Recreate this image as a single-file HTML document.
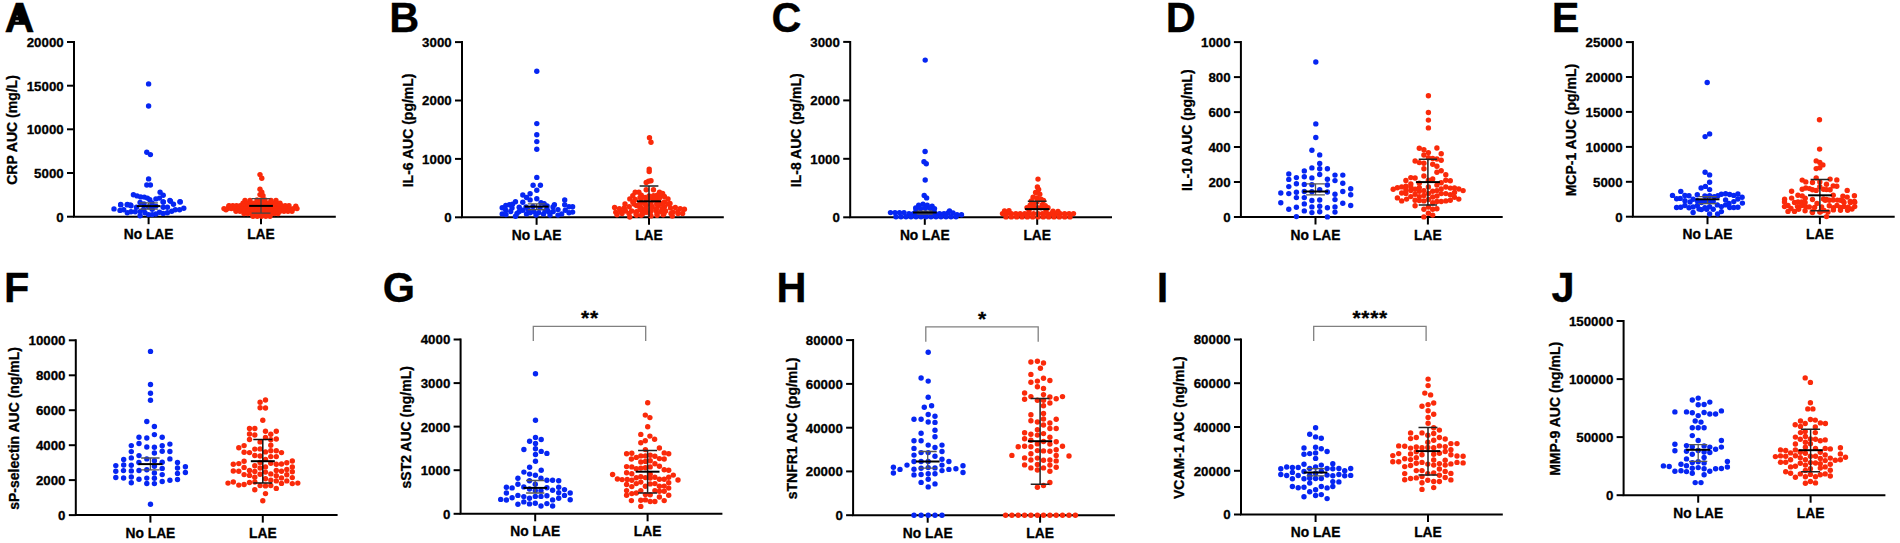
<!DOCTYPE html><html><head><meta charset="utf-8"><title>Figure</title><style>html,body{margin:0;padding:0;background:#fff;}svg{display:block;}text{font-family:"Liberation Sans", Arial, Helvetica, sans-serif;font-weight:bold;fill:#000;stroke:#000;stroke-width:0.3px;}</style></head><body>
<svg width="1900" height="543" viewBox="0 0 1900 543">
<rect width="1900" height="543" fill="#fff"/>
<g><text transform="translate(4.6 32.4) scale(0.965 1)" font-size="43">A</text><path d="M18.0 6.6 L21.8 6.6 L27.2 21.3 L12.6 21.3 Z" fill="#000"/><rect x="15.4" y="20.4" width="3.4" height="1.2" fill="#fff"/><rect x="16.5" y="15.6" width="1.2" height="1.2" fill="#fff" opacity="0.8"/><path d="M74.0 41.0 V216.7 M73.0 216.7 H335.8" stroke="#000" stroke-width="2" fill="none"/><path d="M67.0 216.7 H74.0" stroke="#000" stroke-width="2"/><text x="63.7" y="221.6" font-size="13.3" text-anchor="end">0</text><path d="M67.0 173.0 H74.0" stroke="#000" stroke-width="2"/><text x="63.7" y="177.9" font-size="13.3" text-anchor="end">5000</text><path d="M67.0 129.3 H74.0" stroke="#000" stroke-width="2"/><text x="63.7" y="134.2" font-size="13.3" text-anchor="end">10000</text><path d="M67.0 85.7 H74.0" stroke="#000" stroke-width="2"/><text x="63.7" y="90.6" font-size="13.3" text-anchor="end">15000</text><path d="M67.0 42.0 H74.0" stroke="#000" stroke-width="2"/><text x="63.7" y="46.9" font-size="13.3" text-anchor="end">20000</text><path d="M148.6 216.7 V224.2" stroke="#000" stroke-width="2"/><text x="148.6" y="239.2" font-size="13.8" text-anchor="middle">No LAE</text><path d="M261.0 216.7 V224.2" stroke="#000" stroke-width="2"/><text x="261.0" y="239.2" font-size="13.8" text-anchor="middle">LAE</text><text transform="translate(17.4 130.0) rotate(-90)" font-size="14" text-anchor="middle">CRP AUC (mg/L)</text><circle cx="148.6" cy="83.9" r="2.7" fill="#0626f2"/><circle cx="148.6" cy="106.0" r="2.7" fill="#0626f2"/><circle cx="146.8" cy="152.2" r="2.7" fill="#0626f2"/><circle cx="150.4" cy="154.6" r="2.7" fill="#0626f2"/><circle cx="148.6" cy="178.9" r="2.7" fill="#0626f2"/><circle cx="146.8" cy="185.0" r="2.7" fill="#0626f2"/><circle cx="150.4" cy="185.0" r="2.7" fill="#0626f2"/><circle cx="133.4" cy="194.7" r="2.7" fill="#0626f2"/><circle cx="137.1" cy="195.9" r="2.7" fill="#0626f2"/><circle cx="140.7" cy="196.9" r="2.7" fill="#0626f2"/><circle cx="144.3" cy="197.1" r="2.7" fill="#0626f2"/><circle cx="147.4" cy="198.1" r="2.7" fill="#0626f2"/><circle cx="149.8" cy="199.8" r="2.7" fill="#0626f2"/><circle cx="160.1" cy="192.2" r="2.7" fill="#0626f2"/><circle cx="163.2" cy="195.3" r="2.7" fill="#0626f2"/><circle cx="159.5" cy="198.1" r="2.7" fill="#0626f2"/><circle cx="155.9" cy="198.9" r="2.7" fill="#0626f2"/><circle cx="169.9" cy="200.5" r="2.7" fill="#0626f2"/><circle cx="180.0" cy="201.7" r="2.7" fill="#0626f2"/><circle cx="163.2" cy="202.0" r="2.7" fill="#0626f2"/><circle cx="120.7" cy="204.4" r="2.7" fill="#0626f2"/><circle cx="127.3" cy="204.4" r="2.7" fill="#0626f2"/><circle cx="130.4" cy="205.0" r="2.7" fill="#0626f2"/><circle cx="114.0" cy="208.9" r="2.7" fill="#0626f2"/><circle cx="120.7" cy="204.9" r="2.7" fill="#0626f2"/><circle cx="120.0" cy="210.4" r="2.7" fill="#0626f2"/><circle cx="123.7" cy="209.8" r="2.7" fill="#0626f2"/><circle cx="127.3" cy="204.9" r="2.7" fill="#0626f2"/><circle cx="131.0" cy="205.8" r="2.7" fill="#0626f2"/><circle cx="127.3" cy="212.8" r="2.7" fill="#0626f2"/><circle cx="131.0" cy="211.8" r="2.7" fill="#0626f2"/><circle cx="135.2" cy="211.8" r="2.7" fill="#0626f2"/><circle cx="140.1" cy="202.5" r="2.7" fill="#0626f2"/><circle cx="140.1" cy="215.8" r="2.7" fill="#0626f2"/><circle cx="143.7" cy="209.2" r="2.7" fill="#0626f2"/><circle cx="148.6" cy="206.7" r="2.7" fill="#0626f2"/><circle cx="152.2" cy="209.2" r="2.7" fill="#0626f2"/><circle cx="155.9" cy="206.1" r="2.7" fill="#0626f2"/><circle cx="163.2" cy="201.9" r="2.7" fill="#0626f2"/><circle cx="163.2" cy="207.3" r="2.7" fill="#0626f2"/><circle cx="167.4" cy="207.3" r="2.7" fill="#0626f2"/><circle cx="170.5" cy="201.3" r="2.7" fill="#0626f2"/><circle cx="173.5" cy="204.3" r="2.7" fill="#0626f2"/><circle cx="180.2" cy="201.9" r="2.7" fill="#0626f2"/><circle cx="183.8" cy="208.2" r="2.7" fill="#0626f2"/><circle cx="179.6" cy="209.8" r="2.7" fill="#0626f2"/><circle cx="175.3" cy="209.8" r="2.7" fill="#0626f2"/><circle cx="171.7" cy="211.3" r="2.7" fill="#0626f2"/><circle cx="167.4" cy="212.8" r="2.7" fill="#0626f2"/><circle cx="163.2" cy="213.4" r="2.7" fill="#0626f2"/><circle cx="159.5" cy="212.2" r="2.7" fill="#0626f2"/><circle cx="155.9" cy="214.0" r="2.7" fill="#0626f2"/><circle cx="152.2" cy="214.6" r="2.7" fill="#0626f2"/><circle cx="148.6" cy="214.6" r="2.7" fill="#0626f2"/><circle cx="145.0" cy="212.8" r="2.7" fill="#0626f2"/><circle cx="140.1" cy="211.6" r="2.7" fill="#0626f2"/><circle cx="136.5" cy="207.3" r="2.7" fill="#0626f2"/><circle cx="144.0" cy="204.0" r="2.7" fill="#0626f2"/><circle cx="152.0" cy="203.0" r="2.7" fill="#0626f2"/><circle cx="260.0" cy="174.6" r="2.7" fill="#fa2a0a"/><circle cx="261.8" cy="178.2" r="2.7" fill="#fa2a0a"/><circle cx="260.0" cy="189.2" r="2.7" fill="#fa2a0a"/><circle cx="261.8" cy="192.2" r="2.7" fill="#fa2a0a"/><circle cx="260.0" cy="194.6" r="2.7" fill="#fa2a0a"/><circle cx="263.0" cy="195.8" r="2.7" fill="#fa2a0a"/><circle cx="226.0" cy="209.8" r="2.7" fill="#fa2a0a"/><circle cx="229.0" cy="206.2" r="2.7" fill="#fa2a0a"/><circle cx="295.8" cy="206.2" r="2.7" fill="#fa2a0a"/><circle cx="245.0" cy="200.5" r="2.7" fill="#fa2a0a"/><circle cx="250.0" cy="200.5" r="2.7" fill="#fa2a0a"/><circle cx="257.0" cy="200.0" r="2.7" fill="#fa2a0a"/><circle cx="261.0" cy="200.0" r="2.7" fill="#fa2a0a"/><circle cx="265.0" cy="200.0" r="2.7" fill="#fa2a0a"/><circle cx="271.0" cy="200.5" r="2.7" fill="#fa2a0a"/><circle cx="276.0" cy="200.5" r="2.7" fill="#fa2a0a"/><circle cx="243.0" cy="203.2" r="2.7" fill="#fa2a0a"/><circle cx="246.7" cy="203.2" r="2.7" fill="#fa2a0a"/><circle cx="250.4" cy="203.2" r="2.7" fill="#fa2a0a"/><circle cx="254.1" cy="203.2" r="2.7" fill="#fa2a0a"/><circle cx="257.8" cy="203.2" r="2.7" fill="#fa2a0a"/><circle cx="261.5" cy="203.2" r="2.7" fill="#fa2a0a"/><circle cx="265.2" cy="203.2" r="2.7" fill="#fa2a0a"/><circle cx="268.9" cy="203.2" r="2.7" fill="#fa2a0a"/><circle cx="272.6" cy="203.2" r="2.7" fill="#fa2a0a"/><circle cx="276.3" cy="203.2" r="2.7" fill="#fa2a0a"/><circle cx="280.0" cy="203.2" r="2.7" fill="#fa2a0a"/><circle cx="229.0" cy="205.8" r="2.7" fill="#fa2a0a"/><circle cx="232.8" cy="205.8" r="2.7" fill="#fa2a0a"/><circle cx="236.5" cy="205.8" r="2.7" fill="#fa2a0a"/><circle cx="240.2" cy="205.8" r="2.7" fill="#fa2a0a"/><circle cx="244.0" cy="205.8" r="2.7" fill="#fa2a0a"/><circle cx="247.8" cy="205.8" r="2.7" fill="#fa2a0a"/><circle cx="251.5" cy="205.8" r="2.7" fill="#fa2a0a"/><circle cx="255.2" cy="205.8" r="2.7" fill="#fa2a0a"/><circle cx="259.0" cy="205.8" r="2.7" fill="#fa2a0a"/><circle cx="262.8" cy="205.8" r="2.7" fill="#fa2a0a"/><circle cx="266.5" cy="205.8" r="2.7" fill="#fa2a0a"/><circle cx="270.2" cy="205.8" r="2.7" fill="#fa2a0a"/><circle cx="274.0" cy="205.8" r="2.7" fill="#fa2a0a"/><circle cx="277.8" cy="205.8" r="2.7" fill="#fa2a0a"/><circle cx="281.5" cy="205.8" r="2.7" fill="#fa2a0a"/><circle cx="285.2" cy="205.8" r="2.7" fill="#fa2a0a"/><circle cx="289.0" cy="205.8" r="2.7" fill="#fa2a0a"/><circle cx="224.0" cy="208.6" r="2.7" fill="#fa2a0a"/><circle cx="227.7" cy="208.6" r="2.7" fill="#fa2a0a"/><circle cx="231.3" cy="208.6" r="2.7" fill="#fa2a0a"/><circle cx="234.9" cy="208.6" r="2.7" fill="#fa2a0a"/><circle cx="238.6" cy="208.6" r="2.7" fill="#fa2a0a"/><circle cx="242.2" cy="208.6" r="2.7" fill="#fa2a0a"/><circle cx="245.9" cy="208.6" r="2.7" fill="#fa2a0a"/><circle cx="249.6" cy="208.6" r="2.7" fill="#fa2a0a"/><circle cx="253.2" cy="208.6" r="2.7" fill="#fa2a0a"/><circle cx="256.9" cy="208.6" r="2.7" fill="#fa2a0a"/><circle cx="260.5" cy="208.6" r="2.7" fill="#fa2a0a"/><circle cx="264.1" cy="208.6" r="2.7" fill="#fa2a0a"/><circle cx="267.8" cy="208.6" r="2.7" fill="#fa2a0a"/><circle cx="271.4" cy="208.6" r="2.7" fill="#fa2a0a"/><circle cx="275.1" cy="208.6" r="2.7" fill="#fa2a0a"/><circle cx="278.8" cy="208.6" r="2.7" fill="#fa2a0a"/><circle cx="282.4" cy="208.6" r="2.7" fill="#fa2a0a"/><circle cx="286.1" cy="208.6" r="2.7" fill="#fa2a0a"/><circle cx="289.7" cy="208.6" r="2.7" fill="#fa2a0a"/><circle cx="293.4" cy="208.6" r="2.7" fill="#fa2a0a"/><circle cx="297.0" cy="208.6" r="2.7" fill="#fa2a0a"/><circle cx="236.0" cy="211.2" r="2.7" fill="#fa2a0a"/><circle cx="240.0" cy="211.2" r="2.7" fill="#fa2a0a"/><circle cx="244.0" cy="211.2" r="2.7" fill="#fa2a0a"/><circle cx="248.0" cy="211.2" r="2.7" fill="#fa2a0a"/><circle cx="252.0" cy="211.2" r="2.7" fill="#fa2a0a"/><circle cx="256.0" cy="211.2" r="2.7" fill="#fa2a0a"/><circle cx="260.0" cy="211.2" r="2.7" fill="#fa2a0a"/><circle cx="264.0" cy="211.2" r="2.7" fill="#fa2a0a"/><circle cx="268.0" cy="211.2" r="2.7" fill="#fa2a0a"/><circle cx="272.0" cy="211.2" r="2.7" fill="#fa2a0a"/><circle cx="276.0" cy="211.2" r="2.7" fill="#fa2a0a"/><circle cx="280.0" cy="211.2" r="2.7" fill="#fa2a0a"/><circle cx="284.0" cy="211.2" r="2.7" fill="#fa2a0a"/><circle cx="288.0" cy="211.2" r="2.7" fill="#fa2a0a"/><circle cx="292.0" cy="211.2" r="2.7" fill="#fa2a0a"/><circle cx="244.0" cy="213.6" r="2.7" fill="#fa2a0a"/><circle cx="247.8" cy="213.6" r="2.7" fill="#fa2a0a"/><circle cx="251.6" cy="213.6" r="2.7" fill="#fa2a0a"/><circle cx="255.3" cy="213.6" r="2.7" fill="#fa2a0a"/><circle cx="259.1" cy="213.6" r="2.7" fill="#fa2a0a"/><circle cx="262.9" cy="213.6" r="2.7" fill="#fa2a0a"/><circle cx="266.7" cy="213.6" r="2.7" fill="#fa2a0a"/><circle cx="270.4" cy="213.6" r="2.7" fill="#fa2a0a"/><circle cx="274.2" cy="213.6" r="2.7" fill="#fa2a0a"/><circle cx="278.0" cy="213.6" r="2.7" fill="#fa2a0a"/><circle cx="253.0" cy="216.2" r="2.7" fill="#fa2a0a"/><circle cx="257.2" cy="216.2" r="2.7" fill="#fa2a0a"/><circle cx="261.5" cy="216.2" r="2.7" fill="#fa2a0a"/><circle cx="265.8" cy="216.2" r="2.7" fill="#fa2a0a"/><circle cx="270.0" cy="216.2" r="2.7" fill="#fa2a0a"/><path d="M148.6 209.2 V202.8 M139.3 202.8 H157.9 M139.3 209.2 H157.9" stroke="#555" stroke-width="1.3" fill="none"/><path d="M136.7 206.1 H160.5" stroke="#000" stroke-width="2"/><path d="M261.0 213.2 V198.6 M251.6 198.6 H270.4 M251.6 213.2 H270.4" stroke="#444" stroke-width="1.3" fill="none"/><path d="M249.2 205.9 H272.9" stroke="#000" stroke-width="2"/></g>
<g><text transform="translate(389.2 32.4) scale(0.965 1)" font-size="43">B</text><path d="M462.0 41.1 V217.3 M461.0 217.3 H723.8" stroke="#000" stroke-width="2" fill="none"/><path d="M455.0 217.3 H462.0" stroke="#000" stroke-width="2"/><text x="451.7" y="222.2" font-size="13.3" text-anchor="end">0</text><path d="M455.0 158.9 H462.0" stroke="#000" stroke-width="2"/><text x="451.7" y="163.8" font-size="13.3" text-anchor="end">1000</text><path d="M455.0 100.5 H462.0" stroke="#000" stroke-width="2"/><text x="451.7" y="105.4" font-size="13.3" text-anchor="end">2000</text><path d="M455.0 42.1 H462.0" stroke="#000" stroke-width="2"/><text x="451.7" y="47.0" font-size="13.3" text-anchor="end">3000</text><path d="M536.6 217.3 V224.8" stroke="#000" stroke-width="2"/><text x="536.6" y="239.8" font-size="13.8" text-anchor="middle">No LAE</text><path d="M649.0 217.3 V224.8" stroke="#000" stroke-width="2"/><text x="649.0" y="239.8" font-size="13.8" text-anchor="middle">LAE</text><text transform="translate(412.8 130.4) rotate(-90)" font-size="14" text-anchor="middle">IL-6 AUC (pg/mL)</text><circle cx="536.8" cy="71.2" r="2.7" fill="#0626f2"/><circle cx="536.8" cy="123.6" r="2.7" fill="#0626f2"/><circle cx="536.8" cy="134.8" r="2.7" fill="#0626f2"/><circle cx="536.8" cy="141.6" r="2.7" fill="#0626f2"/><circle cx="536.8" cy="149.2" r="2.7" fill="#0626f2"/><circle cx="536.8" cy="177.4" r="2.7" fill="#0626f2"/><circle cx="533.1" cy="185.3" r="2.7" fill="#0626f2"/><circle cx="540.4" cy="185.3" r="2.7" fill="#0626f2"/><circle cx="536.8" cy="190.2" r="2.7" fill="#0626f2"/><circle cx="522.8" cy="195.0" r="2.7" fill="#0626f2"/><circle cx="530.1" cy="193.8" r="2.7" fill="#0626f2"/><circle cx="526.5" cy="197.5" r="2.7" fill="#0626f2"/><circle cx="530.1" cy="199.9" r="2.7" fill="#0626f2"/><circle cx="536.8" cy="198.7" r="2.7" fill="#0626f2"/><circle cx="564.7" cy="199.9" r="2.7" fill="#0626f2"/><circle cx="515.5" cy="201.7" r="2.7" fill="#0626f2"/><circle cx="522.8" cy="202.3" r="2.7" fill="#0626f2"/><circle cx="541.0" cy="202.7" r="2.7" fill="#0626f2"/><circle cx="544.1" cy="203.6" r="2.7" fill="#0626f2"/><circle cx="554.4" cy="204.8" r="2.7" fill="#0626f2"/><circle cx="564.7" cy="204.8" r="2.7" fill="#0626f2"/><circle cx="502.2" cy="207.8" r="2.7" fill="#0626f2"/><circle cx="505.8" cy="205.4" r="2.7" fill="#0626f2"/><circle cx="509.4" cy="204.8" r="2.7" fill="#0626f2"/><circle cx="512.5" cy="204.2" r="2.7" fill="#0626f2"/><circle cx="502.2" cy="213.9" r="2.7" fill="#0626f2"/><circle cx="505.8" cy="210.2" r="2.7" fill="#0626f2"/><circle cx="510.7" cy="211.5" r="2.7" fill="#0626f2"/><circle cx="519.2" cy="207.2" r="2.7" fill="#0626f2"/><circle cx="519.2" cy="211.5" r="2.7" fill="#0626f2"/><circle cx="515.5" cy="216.3" r="2.7" fill="#0626f2"/><circle cx="522.8" cy="210.2" r="2.7" fill="#0626f2"/><circle cx="526.5" cy="213.9" r="2.7" fill="#0626f2"/><circle cx="530.1" cy="212.7" r="2.7" fill="#0626f2"/><circle cx="533.7" cy="211.5" r="2.7" fill="#0626f2"/><circle cx="538.6" cy="212.7" r="2.7" fill="#0626f2"/><circle cx="543.5" cy="213.9" r="2.7" fill="#0626f2"/><circle cx="547.1" cy="206.0" r="2.7" fill="#0626f2"/><circle cx="548.3" cy="211.5" r="2.7" fill="#0626f2"/><circle cx="553.2" cy="211.5" r="2.7" fill="#0626f2"/><circle cx="558.0" cy="209.6" r="2.7" fill="#0626f2"/><circle cx="558.0" cy="215.1" r="2.7" fill="#0626f2"/><circle cx="561.7" cy="213.9" r="2.7" fill="#0626f2"/><circle cx="565.3" cy="210.2" r="2.7" fill="#0626f2"/><circle cx="569.0" cy="206.8" r="2.7" fill="#0626f2"/><circle cx="572.6" cy="206.8" r="2.7" fill="#0626f2"/><circle cx="572.6" cy="212.1" r="2.7" fill="#0626f2"/><circle cx="569.0" cy="212.7" r="2.7" fill="#0626f2"/><circle cx="526.0" cy="207.0" r="2.7" fill="#0626f2"/><circle cx="533.0" cy="206.5" r="2.7" fill="#0626f2"/><circle cx="540.0" cy="208.0" r="2.7" fill="#0626f2"/><circle cx="547.0" cy="209.0" r="2.7" fill="#0626f2"/><circle cx="553.0" cy="207.0" r="2.7" fill="#0626f2"/><circle cx="536.0" cy="215.0" r="2.7" fill="#0626f2"/><circle cx="512.0" cy="208.0" r="2.7" fill="#0626f2"/><circle cx="517.0" cy="213.5" r="2.7" fill="#0626f2"/><circle cx="545.0" cy="211.0" r="2.7" fill="#0626f2"/><circle cx="550.0" cy="215.0" r="2.7" fill="#0626f2"/><circle cx="506.0" cy="214.5" r="2.7" fill="#0626f2"/><circle cx="528.0" cy="209.5" r="2.7" fill="#0626f2"/><circle cx="649.5" cy="137.7" r="2.7" fill="#fa2a0a"/><circle cx="651.0" cy="142.3" r="2.7" fill="#fa2a0a"/><circle cx="649.2" cy="169.1" r="2.7" fill="#fa2a0a"/><circle cx="649.2" cy="171.5" r="2.7" fill="#fa2a0a"/><circle cx="648.6" cy="181.3" r="2.7" fill="#fa2a0a"/><circle cx="651.0" cy="180.7" r="2.7" fill="#fa2a0a"/><circle cx="646.2" cy="182.5" r="2.7" fill="#fa2a0a"/><circle cx="646.2" cy="189.8" r="2.7" fill="#fa2a0a"/><circle cx="653.5" cy="189.8" r="2.7" fill="#fa2a0a"/><circle cx="635.2" cy="192.2" r="2.7" fill="#fa2a0a"/><circle cx="638.9" cy="192.2" r="2.7" fill="#fa2a0a"/><circle cx="659.5" cy="192.2" r="2.7" fill="#fa2a0a"/><circle cx="662.6" cy="193.4" r="2.7" fill="#fa2a0a"/><circle cx="632.8" cy="195.8" r="2.7" fill="#fa2a0a"/><circle cx="641.3" cy="195.2" r="2.7" fill="#fa2a0a"/><circle cx="653.5" cy="195.8" r="2.7" fill="#fa2a0a"/><circle cx="657.1" cy="195.2" r="2.7" fill="#fa2a0a"/><circle cx="664.4" cy="196.5" r="2.7" fill="#fa2a0a"/><circle cx="629.8" cy="198.9" r="2.7" fill="#fa2a0a"/><circle cx="635.2" cy="199.5" r="2.7" fill="#fa2a0a"/><circle cx="668.0" cy="198.9" r="2.7" fill="#fa2a0a"/><circle cx="646.2" cy="200.1" r="2.7" fill="#fa2a0a"/><circle cx="653.5" cy="200.1" r="2.7" fill="#fa2a0a"/><circle cx="632.8" cy="201.9" r="2.7" fill="#fa2a0a"/><circle cx="664.4" cy="201.9" r="2.7" fill="#fa2a0a"/><circle cx="641.3" cy="202.5" r="2.7" fill="#fa2a0a"/><circle cx="636.5" cy="205.6" r="2.7" fill="#fa2a0a"/><circle cx="646.2" cy="205.6" r="2.7" fill="#fa2a0a"/><circle cx="652.2" cy="206.8" r="2.7" fill="#fa2a0a"/><circle cx="658.3" cy="205.6" r="2.7" fill="#fa2a0a"/><circle cx="664.4" cy="206.8" r="2.7" fill="#fa2a0a"/><circle cx="614.6" cy="207.4" r="2.7" fill="#fa2a0a"/><circle cx="619.4" cy="208.6" r="2.7" fill="#fa2a0a"/><circle cx="624.3" cy="208.0" r="2.7" fill="#fa2a0a"/><circle cx="629.2" cy="206.8" r="2.7" fill="#fa2a0a"/><circle cx="670.5" cy="208.0" r="2.7" fill="#fa2a0a"/><circle cx="675.3" cy="207.4" r="2.7" fill="#fa2a0a"/><circle cx="680.2" cy="208.6" r="2.7" fill="#fa2a0a"/><circle cx="684.4" cy="209.2" r="2.7" fill="#fa2a0a"/><circle cx="615.8" cy="212.2" r="2.7" fill="#fa2a0a"/><circle cx="620.7" cy="211.6" r="2.7" fill="#fa2a0a"/><circle cx="625.5" cy="211.0" r="2.7" fill="#fa2a0a"/><circle cx="631.6" cy="211.0" r="2.7" fill="#fa2a0a"/><circle cx="636.5" cy="211.6" r="2.7" fill="#fa2a0a"/><circle cx="641.3" cy="210.4" r="2.7" fill="#fa2a0a"/><circle cx="646.2" cy="212.2" r="2.7" fill="#fa2a0a"/><circle cx="651.0" cy="211.0" r="2.7" fill="#fa2a0a"/><circle cx="655.9" cy="210.4" r="2.7" fill="#fa2a0a"/><circle cx="660.8" cy="211.6" r="2.7" fill="#fa2a0a"/><circle cx="665.6" cy="211.0" r="2.7" fill="#fa2a0a"/><circle cx="672.9" cy="212.2" r="2.7" fill="#fa2a0a"/><circle cx="677.8" cy="211.6" r="2.7" fill="#fa2a0a"/><circle cx="682.6" cy="213.5" r="2.7" fill="#fa2a0a"/><circle cx="629.8" cy="217.1" r="2.7" fill="#fa2a0a"/><circle cx="636.5" cy="215.3" r="2.7" fill="#fa2a0a"/><circle cx="641.3" cy="215.3" r="2.7" fill="#fa2a0a"/><circle cx="651.0" cy="215.9" r="2.7" fill="#fa2a0a"/><circle cx="657.1" cy="215.3" r="2.7" fill="#fa2a0a"/><circle cx="663.2" cy="214.7" r="2.7" fill="#fa2a0a"/><circle cx="672.3" cy="216.1" r="2.7" fill="#fa2a0a"/><circle cx="617.0" cy="214.7" r="2.7" fill="#fa2a0a"/><circle cx="641.0" cy="198.0" r="2.7" fill="#fa2a0a"/><circle cx="649.0" cy="196.0" r="2.7" fill="#fa2a0a"/><circle cx="657.0" cy="200.0" r="2.7" fill="#fa2a0a"/><circle cx="660.0" cy="203.0" r="2.7" fill="#fa2a0a"/><circle cx="641.0" cy="207.5" r="2.7" fill="#fa2a0a"/><circle cx="670.0" cy="203.5" r="2.7" fill="#fa2a0a"/><circle cx="625.0" cy="204.0" r="2.7" fill="#fa2a0a"/><circle cx="640.0" cy="197.5" r="2.7" fill="#fa2a0a"/><circle cx="645.0" cy="197.5" r="2.7" fill="#fa2a0a"/><circle cx="650.0" cy="197.5" r="2.7" fill="#fa2a0a"/><circle cx="655.0" cy="197.5" r="2.7" fill="#fa2a0a"/><circle cx="660.0" cy="197.5" r="2.7" fill="#fa2a0a"/><circle cx="634.0" cy="204.0" r="2.7" fill="#fa2a0a"/><circle cx="639.7" cy="204.0" r="2.7" fill="#fa2a0a"/><circle cx="645.3" cy="204.0" r="2.7" fill="#fa2a0a"/><circle cx="651.0" cy="204.0" r="2.7" fill="#fa2a0a"/><circle cx="656.7" cy="204.0" r="2.7" fill="#fa2a0a"/><circle cx="662.3" cy="204.0" r="2.7" fill="#fa2a0a"/><circle cx="668.0" cy="204.0" r="2.7" fill="#fa2a0a"/><circle cx="640.0" cy="208.8" r="2.7" fill="#fa2a0a"/><circle cx="645.5" cy="208.8" r="2.7" fill="#fa2a0a"/><circle cx="651.0" cy="208.8" r="2.7" fill="#fa2a0a"/><circle cx="656.5" cy="208.8" r="2.7" fill="#fa2a0a"/><circle cx="662.0" cy="208.8" r="2.7" fill="#fa2a0a"/><circle cx="622.0" cy="213.5" r="2.7" fill="#fa2a0a"/><circle cx="629.0" cy="213.5" r="2.7" fill="#fa2a0a"/><circle cx="636.0" cy="213.5" r="2.7" fill="#fa2a0a"/><circle cx="643.0" cy="213.5" r="2.7" fill="#fa2a0a"/><circle cx="650.0" cy="213.5" r="2.7" fill="#fa2a0a"/><circle cx="657.0" cy="213.5" r="2.7" fill="#fa2a0a"/><circle cx="664.0" cy="213.5" r="2.7" fill="#fa2a0a"/><circle cx="671.0" cy="213.5" r="2.7" fill="#fa2a0a"/><circle cx="678.0" cy="213.5" r="2.7" fill="#fa2a0a"/><path d="M536.6 209.6 V203.8 M527.8 203.8 H545.4 M527.8 209.6 H545.4" stroke="#555" stroke-width="1.3" fill="none"/><path d="M524.6 206.6 H548.6" stroke="#000" stroke-width="2"/><path d="M649.0 217.0 V185.9 M639.6 185.9 H658.4" stroke="#222" stroke-width="1.5" fill="none"/><path d="M637.0 201.3 H661.0" stroke="#000" stroke-width="2"/></g>
<g><text transform="translate(771.4 32.4) scale(0.965 1)" font-size="43">C</text><path d="M850.2 40.9 V217.3 M849.2 217.3 H1112.0" stroke="#000" stroke-width="2" fill="none"/><path d="M843.2 217.3 H850.2" stroke="#000" stroke-width="2"/><text x="839.9" y="222.2" font-size="13.3" text-anchor="end">0</text><path d="M843.2 158.8 H850.2" stroke="#000" stroke-width="2"/><text x="839.9" y="163.7" font-size="13.3" text-anchor="end">1000</text><path d="M843.2 100.4 H850.2" stroke="#000" stroke-width="2"/><text x="839.9" y="105.3" font-size="13.3" text-anchor="end">2000</text><path d="M843.2 41.9 H850.2" stroke="#000" stroke-width="2"/><text x="839.9" y="46.8" font-size="13.3" text-anchor="end">3000</text><path d="M924.8 217.3 V224.8" stroke="#000" stroke-width="2"/><text x="924.8" y="239.8" font-size="13.8" text-anchor="middle">No LAE</text><path d="M1037.2 217.3 V224.8" stroke="#000" stroke-width="2"/><text x="1037.2" y="239.8" font-size="13.8" text-anchor="middle">LAE</text><text transform="translate(801.0 130.3) rotate(-90)" font-size="14" text-anchor="middle">IL-8 AUC (pg/mL)</text><circle cx="925.2" cy="60.1" r="2.7" fill="#0626f2"/><circle cx="925.1" cy="151.5" r="2.7" fill="#0626f2"/><circle cx="924.0" cy="161.8" r="2.7" fill="#0626f2"/><circle cx="926.3" cy="163.7" r="2.7" fill="#0626f2"/><circle cx="925.2" cy="180.0" r="2.7" fill="#0626f2"/><circle cx="924.2" cy="195.5" r="2.7" fill="#0626f2"/><circle cx="926.6" cy="197.9" r="2.7" fill="#0626f2"/><circle cx="918.7" cy="205.2" r="2.7" fill="#0626f2"/><circle cx="923.0" cy="204.3" r="2.7" fill="#0626f2"/><circle cx="927.2" cy="205.2" r="2.7" fill="#0626f2"/><circle cx="932.1" cy="206.2" r="2.7" fill="#0626f2"/><circle cx="915.7" cy="207.9" r="2.7" fill="#0626f2"/><circle cx="920.6" cy="208.6" r="2.7" fill="#0626f2"/><circle cx="925.4" cy="208.3" r="2.7" fill="#0626f2"/><circle cx="930.3" cy="208.3" r="2.7" fill="#0626f2"/><circle cx="934.5" cy="208.6" r="2.7" fill="#0626f2"/><circle cx="890.5" cy="212.6" r="2.7" fill="#0626f2"/><circle cx="895.0" cy="212.6" r="2.7" fill="#0626f2"/><circle cx="899.5" cy="212.6" r="2.7" fill="#0626f2"/><circle cx="904.0" cy="212.6" r="2.7" fill="#0626f2"/><circle cx="909.0" cy="213.8" r="2.7" fill="#0626f2"/><circle cx="913.4" cy="213.8" r="2.7" fill="#0626f2"/><circle cx="917.8" cy="213.8" r="2.7" fill="#0626f2"/><circle cx="922.1" cy="213.8" r="2.7" fill="#0626f2"/><circle cx="926.5" cy="213.8" r="2.7" fill="#0626f2"/><circle cx="930.9" cy="213.8" r="2.7" fill="#0626f2"/><circle cx="935.2" cy="213.8" r="2.7" fill="#0626f2"/><circle cx="939.6" cy="213.8" r="2.7" fill="#0626f2"/><circle cx="944.0" cy="213.8" r="2.7" fill="#0626f2"/><circle cx="948.0" cy="213.0" r="2.7" fill="#0626f2"/><circle cx="953.0" cy="213.0" r="2.7" fill="#0626f2"/><circle cx="957.0" cy="214.8" r="2.7" fill="#0626f2"/><circle cx="961.5" cy="214.8" r="2.7" fill="#0626f2"/><circle cx="896.0" cy="216.8" r="2.7" fill="#0626f2"/><circle cx="901.0" cy="216.8" r="2.7" fill="#0626f2"/><circle cx="906.0" cy="216.8" r="2.7" fill="#0626f2"/><circle cx="911.0" cy="216.8" r="2.7" fill="#0626f2"/><circle cx="916.0" cy="216.8" r="2.7" fill="#0626f2"/><circle cx="921.0" cy="216.8" r="2.7" fill="#0626f2"/><circle cx="926.0" cy="216.8" r="2.7" fill="#0626f2"/><circle cx="931.0" cy="216.8" r="2.7" fill="#0626f2"/><circle cx="936.0" cy="216.8" r="2.7" fill="#0626f2"/><circle cx="941.0" cy="216.8" r="2.7" fill="#0626f2"/><circle cx="946.0" cy="216.8" r="2.7" fill="#0626f2"/><circle cx="951.0" cy="216.8" r="2.7" fill="#0626f2"/><circle cx="956.0" cy="216.8" r="2.7" fill="#0626f2"/><circle cx="949.5" cy="211.0" r="2.7" fill="#0626f2"/><circle cx="934.0" cy="210.8" r="2.7" fill="#0626f2"/><circle cx="916.0" cy="210.8" r="2.7" fill="#0626f2"/><circle cx="1038.0" cy="179.1" r="2.7" fill="#fa2a0a"/><circle cx="1037.4" cy="187.0" r="2.7" fill="#fa2a0a"/><circle cx="1038.6" cy="189.4" r="2.7" fill="#fa2a0a"/><circle cx="1035.6" cy="192.5" r="2.7" fill="#fa2a0a"/><circle cx="1039.8" cy="194.3" r="2.7" fill="#fa2a0a"/><circle cx="1033.1" cy="197.3" r="2.7" fill="#fa2a0a"/><circle cx="1036.8" cy="197.9" r="2.7" fill="#fa2a0a"/><circle cx="1041.0" cy="199.2" r="2.7" fill="#fa2a0a"/><circle cx="1043.5" cy="200.4" r="2.7" fill="#fa2a0a"/><circle cx="1031.3" cy="201.0" r="2.7" fill="#fa2a0a"/><circle cx="1042.2" cy="204.6" r="2.7" fill="#fa2a0a"/><circle cx="1030.1" cy="205.2" r="2.7" fill="#fa2a0a"/><circle cx="1033.7" cy="204.0" r="2.7" fill="#fa2a0a"/><circle cx="1045.3" cy="205.8" r="2.7" fill="#fa2a0a"/><circle cx="1037.0" cy="202.0" r="2.7" fill="#fa2a0a"/><circle cx="1027.0" cy="207.8" r="2.7" fill="#fa2a0a"/><circle cx="1030.5" cy="207.8" r="2.7" fill="#fa2a0a"/><circle cx="1034.0" cy="207.8" r="2.7" fill="#fa2a0a"/><circle cx="1037.5" cy="207.8" r="2.7" fill="#fa2a0a"/><circle cx="1041.0" cy="207.8" r="2.7" fill="#fa2a0a"/><circle cx="1044.5" cy="207.8" r="2.7" fill="#fa2a0a"/><circle cx="1048.0" cy="207.8" r="2.7" fill="#fa2a0a"/><circle cx="1002.5" cy="213.6" r="2.7" fill="#fa2a0a"/><circle cx="1006.9" cy="213.6" r="2.7" fill="#fa2a0a"/><circle cx="1011.4" cy="213.6" r="2.7" fill="#fa2a0a"/><circle cx="1015.8" cy="213.6" r="2.7" fill="#fa2a0a"/><circle cx="1020.2" cy="213.6" r="2.7" fill="#fa2a0a"/><circle cx="1024.7" cy="213.6" r="2.7" fill="#fa2a0a"/><circle cx="1029.1" cy="213.6" r="2.7" fill="#fa2a0a"/><circle cx="1033.6" cy="213.6" r="2.7" fill="#fa2a0a"/><circle cx="1038.0" cy="213.6" r="2.7" fill="#fa2a0a"/><circle cx="1042.4" cy="213.6" r="2.7" fill="#fa2a0a"/><circle cx="1046.9" cy="213.6" r="2.7" fill="#fa2a0a"/><circle cx="1051.3" cy="213.6" r="2.7" fill="#fa2a0a"/><circle cx="1055.8" cy="213.6" r="2.7" fill="#fa2a0a"/><circle cx="1060.2" cy="213.6" r="2.7" fill="#fa2a0a"/><circle cx="1064.6" cy="213.6" r="2.7" fill="#fa2a0a"/><circle cx="1069.1" cy="213.6" r="2.7" fill="#fa2a0a"/><circle cx="1073.5" cy="213.6" r="2.7" fill="#fa2a0a"/><circle cx="1006.0" cy="216.9" r="2.7" fill="#fa2a0a"/><circle cx="1011.3" cy="216.9" r="2.7" fill="#fa2a0a"/><circle cx="1016.7" cy="216.9" r="2.7" fill="#fa2a0a"/><circle cx="1022.0" cy="216.9" r="2.7" fill="#fa2a0a"/><circle cx="1027.3" cy="216.9" r="2.7" fill="#fa2a0a"/><circle cx="1032.7" cy="216.9" r="2.7" fill="#fa2a0a"/><circle cx="1038.0" cy="216.9" r="2.7" fill="#fa2a0a"/><circle cx="1043.3" cy="216.9" r="2.7" fill="#fa2a0a"/><circle cx="1048.7" cy="216.9" r="2.7" fill="#fa2a0a"/><circle cx="1054.0" cy="216.9" r="2.7" fill="#fa2a0a"/><circle cx="1059.3" cy="216.9" r="2.7" fill="#fa2a0a"/><circle cx="1064.7" cy="216.9" r="2.7" fill="#fa2a0a"/><circle cx="1070.0" cy="216.9" r="2.7" fill="#fa2a0a"/><circle cx="1004.5" cy="211.0" r="2.7" fill="#fa2a0a"/><circle cx="1009.0" cy="210.8" r="2.7" fill="#fa2a0a"/><circle cx="1053.0" cy="211.2" r="2.7" fill="#fa2a0a"/><circle cx="1058.0" cy="211.5" r="2.7" fill="#fa2a0a"/><circle cx="1029.0" cy="211.0" r="2.7" fill="#fa2a0a"/><circle cx="1046.0" cy="211.0" r="2.7" fill="#fa2a0a"/><path d="M924.8 214.0 V211.1 M916.9 211.1 H932.7 M916.9 214.0 H932.7" stroke="#555" stroke-width="1.3" fill="none"/><path d="M913.0 212.5 H936.7" stroke="#000" stroke-width="2"/><path d="M1037.2 217.1 V201.3 M1027.8 201.3 H1046.6" stroke="#222" stroke-width="1.5" fill="none"/><path d="M1025.0 209.1 H1049.4" stroke="#000" stroke-width="2"/></g>
<g><text transform="translate(1165.7 32.4) scale(0.965 1)" font-size="43">D</text><path d="M1240.9 41.1 V217.0 M1239.9 217.0 H1502.7" stroke="#000" stroke-width="2" fill="none"/><path d="M1233.9 217.0 H1240.9" stroke="#000" stroke-width="2"/><text x="1230.6" y="221.9" font-size="13.3" text-anchor="end">0</text><path d="M1233.9 182.0 H1240.9" stroke="#000" stroke-width="2"/><text x="1230.6" y="186.9" font-size="13.3" text-anchor="end">200</text><path d="M1233.9 147.0 H1240.9" stroke="#000" stroke-width="2"/><text x="1230.6" y="151.9" font-size="13.3" text-anchor="end">400</text><path d="M1233.9 112.1 H1240.9" stroke="#000" stroke-width="2"/><text x="1230.6" y="117.0" font-size="13.3" text-anchor="end">600</text><path d="M1233.9 77.1 H1240.9" stroke="#000" stroke-width="2"/><text x="1230.6" y="82.0" font-size="13.3" text-anchor="end">800</text><path d="M1233.9 42.1 H1240.9" stroke="#000" stroke-width="2"/><text x="1230.6" y="47.0" font-size="13.3" text-anchor="end">1000</text><path d="M1315.5 217.0 V224.5" stroke="#000" stroke-width="2"/><text x="1315.5" y="239.5" font-size="13.8" text-anchor="middle">No LAE</text><path d="M1427.9 217.0 V224.5" stroke="#000" stroke-width="2"/><text x="1427.9" y="239.5" font-size="13.8" text-anchor="middle">LAE</text><text transform="translate(1191.7 130.2) rotate(-90)" font-size="14" text-anchor="middle">IL-10 AUC (pg/mL)</text><circle cx="1315.8" cy="62.0" r="2.7" fill="#0626f2"/><circle cx="1315.8" cy="123.9" r="2.7" fill="#0626f2"/><circle cx="1315.8" cy="137.5" r="2.7" fill="#0626f2"/><circle cx="1311.9" cy="150.2" r="2.7" fill="#0626f2"/><circle cx="1319.7" cy="154.9" r="2.7" fill="#0626f2"/><circle cx="1319.7" cy="163.4" r="2.7" fill="#0626f2"/><circle cx="1311.9" cy="167.9" r="2.7" fill="#0626f2"/><circle cx="1319.7" cy="168.8" r="2.7" fill="#0626f2"/><circle cx="1327.4" cy="168.7" r="2.7" fill="#0626f2"/><circle cx="1304.3" cy="170.9" r="2.7" fill="#0626f2"/><circle cx="1288.8" cy="173.9" r="2.7" fill="#0626f2"/><circle cx="1319.7" cy="174.5" r="2.7" fill="#0626f2"/><circle cx="1335.0" cy="175.1" r="2.7" fill="#0626f2"/><circle cx="1342.8" cy="175.1" r="2.7" fill="#0626f2"/><circle cx="1296.4" cy="177.6" r="2.7" fill="#0626f2"/><circle cx="1304.3" cy="176.7" r="2.7" fill="#0626f2"/><circle cx="1311.9" cy="177.9" r="2.7" fill="#0626f2"/><circle cx="1288.8" cy="179.4" r="2.7" fill="#0626f2"/><circle cx="1327.4" cy="179.2" r="2.7" fill="#0626f2"/><circle cx="1335.0" cy="180.6" r="2.7" fill="#0626f2"/><circle cx="1342.8" cy="183.2" r="2.7" fill="#0626f2"/><circle cx="1296.4" cy="183.8" r="2.7" fill="#0626f2"/><circle cx="1304.3" cy="184.4" r="2.7" fill="#0626f2"/><circle cx="1311.9" cy="184.7" r="2.7" fill="#0626f2"/><circle cx="1327.4" cy="185.0" r="2.7" fill="#0626f2"/><circle cx="1288.8" cy="186.6" r="2.7" fill="#0626f2"/><circle cx="1350.7" cy="188.7" r="2.7" fill="#0626f2"/><circle cx="1319.7" cy="189.7" r="2.7" fill="#0626f2"/><circle cx="1280.8" cy="193.0" r="2.7" fill="#0626f2"/><circle cx="1288.8" cy="193.6" r="2.7" fill="#0626f2"/><circle cx="1296.4" cy="192.3" r="2.7" fill="#0626f2"/><circle cx="1304.3" cy="191.5" r="2.7" fill="#0626f2"/><circle cx="1311.9" cy="191.7" r="2.7" fill="#0626f2"/><circle cx="1327.4" cy="192.0" r="2.7" fill="#0626f2"/><circle cx="1342.8" cy="191.5" r="2.7" fill="#0626f2"/><circle cx="1335.0" cy="194.2" r="2.7" fill="#0626f2"/><circle cx="1350.7" cy="194.8" r="2.7" fill="#0626f2"/><circle cx="1296.4" cy="197.6" r="2.7" fill="#0626f2"/><circle cx="1304.3" cy="197.6" r="2.7" fill="#0626f2"/><circle cx="1311.9" cy="200.5" r="2.7" fill="#0626f2"/><circle cx="1319.7" cy="200.0" r="2.7" fill="#0626f2"/><circle cx="1335.0" cy="199.6" r="2.7" fill="#0626f2"/><circle cx="1280.8" cy="202.7" r="2.7" fill="#0626f2"/><circle cx="1304.3" cy="203.9" r="2.7" fill="#0626f2"/><circle cx="1342.8" cy="203.3" r="2.7" fill="#0626f2"/><circle cx="1350.7" cy="205.5" r="2.7" fill="#0626f2"/><circle cx="1296.4" cy="207.3" r="2.7" fill="#0626f2"/><circle cx="1311.9" cy="206.9" r="2.7" fill="#0626f2"/><circle cx="1319.7" cy="206.3" r="2.7" fill="#0626f2"/><circle cx="1327.4" cy="207.8" r="2.7" fill="#0626f2"/><circle cx="1335.0" cy="206.9" r="2.7" fill="#0626f2"/><circle cx="1288.8" cy="209.3" r="2.7" fill="#0626f2"/><circle cx="1304.3" cy="210.9" r="2.7" fill="#0626f2"/><circle cx="1311.9" cy="212.6" r="2.7" fill="#0626f2"/><circle cx="1319.7" cy="211.8" r="2.7" fill="#0626f2"/><circle cx="1335.0" cy="212.1" r="2.7" fill="#0626f2"/><circle cx="1296.4" cy="216.6" r="2.7" fill="#0626f2"/><circle cx="1327.4" cy="216.9" r="2.7" fill="#0626f2"/><circle cx="1428.4" cy="95.8" r="2.7" fill="#fa2a0a"/><circle cx="1428.4" cy="112.5" r="2.7" fill="#fa2a0a"/><circle cx="1428.4" cy="120.1" r="2.7" fill="#fa2a0a"/><circle cx="1428.4" cy="127.9" r="2.7" fill="#fa2a0a"/><circle cx="1419.3" cy="148.3" r="2.7" fill="#fa2a0a"/><circle cx="1423.9" cy="149.8" r="2.7" fill="#fa2a0a"/><circle cx="1436.9" cy="148.0" r="2.7" fill="#fa2a0a"/><circle cx="1428.4" cy="152.6" r="2.7" fill="#fa2a0a"/><circle cx="1441.2" cy="153.8" r="2.7" fill="#fa2a0a"/><circle cx="1423.9" cy="155.0" r="2.7" fill="#fa2a0a"/><circle cx="1428.4" cy="157.8" r="2.7" fill="#fa2a0a"/><circle cx="1432.7" cy="158.4" r="2.7" fill="#fa2a0a"/><circle cx="1436.9" cy="159.0" r="2.7" fill="#fa2a0a"/><circle cx="1441.2" cy="160.2" r="2.7" fill="#fa2a0a"/><circle cx="1415.1" cy="161.0" r="2.7" fill="#fa2a0a"/><circle cx="1419.3" cy="162.6" r="2.7" fill="#fa2a0a"/><circle cx="1423.9" cy="163.2" r="2.7" fill="#fa2a0a"/><circle cx="1432.7" cy="164.2" r="2.7" fill="#fa2a0a"/><circle cx="1436.9" cy="166.3" r="2.7" fill="#fa2a0a"/><circle cx="1423.9" cy="168.7" r="2.7" fill="#fa2a0a"/><circle cx="1436.9" cy="172.3" r="2.7" fill="#fa2a0a"/><circle cx="1441.2" cy="170.8" r="2.7" fill="#fa2a0a"/><circle cx="1445.8" cy="174.8" r="2.7" fill="#fa2a0a"/><circle cx="1423.9" cy="176.0" r="2.7" fill="#fa2a0a"/><circle cx="1410.8" cy="177.6" r="2.7" fill="#fa2a0a"/><circle cx="1415.1" cy="178.0" r="2.7" fill="#fa2a0a"/><circle cx="1432.7" cy="179.0" r="2.7" fill="#fa2a0a"/><circle cx="1405.9" cy="180.5" r="2.7" fill="#fa2a0a"/><circle cx="1428.4" cy="180.2" r="2.7" fill="#fa2a0a"/><circle cx="1445.8" cy="180.2" r="2.7" fill="#fa2a0a"/><circle cx="1450.3" cy="180.8" r="2.7" fill="#fa2a0a"/><circle cx="1410.8" cy="183.9" r="2.7" fill="#fa2a0a"/><circle cx="1419.3" cy="183.3" r="2.7" fill="#fa2a0a"/><circle cx="1436.9" cy="185.1" r="2.7" fill="#fa2a0a"/><circle cx="1441.2" cy="182.7" r="2.7" fill="#fa2a0a"/><circle cx="1405.9" cy="186.3" r="2.7" fill="#fa2a0a"/><circle cx="1428.4" cy="186.9" r="2.7" fill="#fa2a0a"/><circle cx="1450.3" cy="188.1" r="2.7" fill="#fa2a0a"/><circle cx="1393.2" cy="189.3" r="2.7" fill="#fa2a0a"/><circle cx="1397.4" cy="187.8" r="2.7" fill="#fa2a0a"/><circle cx="1401.7" cy="186.9" r="2.7" fill="#fa2a0a"/><circle cx="1458.8" cy="189.0" r="2.7" fill="#fa2a0a"/><circle cx="1463.1" cy="190.6" r="2.7" fill="#fa2a0a"/><circle cx="1410.8" cy="190.6" r="2.7" fill="#fa2a0a"/><circle cx="1415.1" cy="189.3" r="2.7" fill="#fa2a0a"/><circle cx="1419.3" cy="191.2" r="2.7" fill="#fa2a0a"/><circle cx="1423.9" cy="190.6" r="2.7" fill="#fa2a0a"/><circle cx="1432.7" cy="191.2" r="2.7" fill="#fa2a0a"/><circle cx="1436.9" cy="190.6" r="2.7" fill="#fa2a0a"/><circle cx="1401.7" cy="193.0" r="2.7" fill="#fa2a0a"/><circle cx="1405.9" cy="193.4" r="2.7" fill="#fa2a0a"/><circle cx="1415.1" cy="194.2" r="2.7" fill="#fa2a0a"/><circle cx="1423.9" cy="195.4" r="2.7" fill="#fa2a0a"/><circle cx="1441.2" cy="193.6" r="2.7" fill="#fa2a0a"/><circle cx="1445.8" cy="193.6" r="2.7" fill="#fa2a0a"/><circle cx="1450.3" cy="194.8" r="2.7" fill="#fa2a0a"/><circle cx="1454.5" cy="192.4" r="2.7" fill="#fa2a0a"/><circle cx="1397.4" cy="197.9" r="2.7" fill="#fa2a0a"/><circle cx="1410.8" cy="196.6" r="2.7" fill="#fa2a0a"/><circle cx="1419.3" cy="196.6" r="2.7" fill="#fa2a0a"/><circle cx="1432.7" cy="197.0" r="2.7" fill="#fa2a0a"/><circle cx="1454.5" cy="197.2" r="2.7" fill="#fa2a0a"/><circle cx="1458.8" cy="199.1" r="2.7" fill="#fa2a0a"/><circle cx="1401.7" cy="200.9" r="2.7" fill="#fa2a0a"/><circle cx="1406.6" cy="199.1" r="2.7" fill="#fa2a0a"/><circle cx="1415.1" cy="200.3" r="2.7" fill="#fa2a0a"/><circle cx="1423.9" cy="200.9" r="2.7" fill="#fa2a0a"/><circle cx="1436.9" cy="201.5" r="2.7" fill="#fa2a0a"/><circle cx="1441.2" cy="201.5" r="2.7" fill="#fa2a0a"/><circle cx="1445.8" cy="200.9" r="2.7" fill="#fa2a0a"/><circle cx="1450.3" cy="200.3" r="2.7" fill="#fa2a0a"/><circle cx="1432.7" cy="202.7" r="2.7" fill="#fa2a0a"/><circle cx="1415.1" cy="205.8" r="2.7" fill="#fa2a0a"/><circle cx="1423.9" cy="209.2" r="2.7" fill="#fa2a0a"/><circle cx="1428.4" cy="207.0" r="2.7" fill="#fa2a0a"/><circle cx="1432.7" cy="209.2" r="2.7" fill="#fa2a0a"/><circle cx="1436.9" cy="208.8" r="2.7" fill="#fa2a0a"/><circle cx="1428.4" cy="213.3" r="2.7" fill="#fa2a0a"/><circle cx="1432.7" cy="215.1" r="2.7" fill="#fa2a0a"/><circle cx="1423.9" cy="216.9" r="2.7" fill="#fa2a0a"/><circle cx="1410.8" cy="187.0" r="2.7" fill="#fa2a0a"/><circle cx="1428.4" cy="193.5" r="2.7" fill="#fa2a0a"/><circle cx="1419.3" cy="187.6" r="2.7" fill="#fa2a0a"/><circle cx="1445.8" cy="187.0" r="2.7" fill="#fa2a0a"/><circle cx="1437.0" cy="196.0" r="2.7" fill="#fa2a0a"/><circle cx="1405.9" cy="190.0" r="2.7" fill="#fa2a0a"/><circle cx="1428.4" cy="199.5" r="2.7" fill="#fa2a0a"/><circle cx="1419.3" cy="200.5" r="2.7" fill="#fa2a0a"/><circle cx="1441.2" cy="189.0" r="2.7" fill="#fa2a0a"/><circle cx="1454.5" cy="188.0" r="2.7" fill="#fa2a0a"/><path d="M1315.5 194.8 V183.8 M1306.1 183.8 H1324.9 M1306.1 194.8 H1324.9" stroke="#555" stroke-width="1.3" fill="none"/><path d="M1303.0 191.5 H1328.0" stroke="#000" stroke-width="2"/><path d="M1427.9 205.1 V159.3 M1418.7 159.3 H1437.1 M1418.7 205.1 H1437.1" stroke="#222" stroke-width="1.5" fill="none"/><path d="M1415.9 182.1 H1439.9" stroke="#000" stroke-width="2"/></g>
<g><text transform="translate(1551.7 32.4) scale(0.965 1)" font-size="43">E</text><path d="M1632.9 41.1 V216.7 M1631.9 216.7 H1894.7" stroke="#000" stroke-width="2" fill="none"/><path d="M1625.9 216.7 H1632.9" stroke="#000" stroke-width="2"/><text x="1622.6" y="221.6" font-size="13.3" text-anchor="end">0</text><path d="M1625.9 181.8 H1632.9" stroke="#000" stroke-width="2"/><text x="1622.6" y="186.7" font-size="13.3" text-anchor="end">5000</text><path d="M1625.9 146.9 H1632.9" stroke="#000" stroke-width="2"/><text x="1622.6" y="151.8" font-size="13.3" text-anchor="end">10000</text><path d="M1625.9 111.9 H1632.9" stroke="#000" stroke-width="2"/><text x="1622.6" y="116.8" font-size="13.3" text-anchor="end">15000</text><path d="M1625.9 77.0 H1632.9" stroke="#000" stroke-width="2"/><text x="1622.6" y="81.9" font-size="13.3" text-anchor="end">20000</text><path d="M1625.9 42.1 H1632.9" stroke="#000" stroke-width="2"/><text x="1622.6" y="47.0" font-size="13.3" text-anchor="end">25000</text><path d="M1707.5 216.7 V224.2" stroke="#000" stroke-width="2"/><text x="1707.5" y="239.2" font-size="13.8" text-anchor="middle">No LAE</text><path d="M1819.9 216.7 V224.2" stroke="#000" stroke-width="2"/><text x="1819.9" y="239.2" font-size="13.8" text-anchor="middle">LAE</text><text transform="translate(1576.3 130.1) rotate(-90)" font-size="14" text-anchor="middle">MCP-1 AUC (pg/mL)</text><circle cx="1707.2" cy="82.5" r="2.7" fill="#0626f2"/><circle cx="1709.6" cy="133.9" r="2.7" fill="#0626f2"/><circle cx="1705.1" cy="136.6" r="2.7" fill="#0626f2"/><circle cx="1705.1" cy="172.2" r="2.7" fill="#0626f2"/><circle cx="1709.6" cy="174.9" r="2.7" fill="#0626f2"/><circle cx="1709.6" cy="182.3" r="2.7" fill="#0626f2"/><circle cx="1701.1" cy="188.0" r="2.7" fill="#0626f2"/><circle cx="1705.4" cy="186.4" r="2.7" fill="#0626f2"/><circle cx="1709.6" cy="189.6" r="2.7" fill="#0626f2"/><circle cx="1680.8" cy="191.4" r="2.7" fill="#0626f2"/><circle cx="1672.5" cy="195.4" r="2.7" fill="#0626f2"/><circle cx="1676.6" cy="198.7" r="2.7" fill="#0626f2"/><circle cx="1680.2" cy="198.4" r="2.7" fill="#0626f2"/><circle cx="1684.9" cy="195.4" r="2.7" fill="#0626f2"/><circle cx="1689.0" cy="195.7" r="2.7" fill="#0626f2"/><circle cx="1684.9" cy="200.7" r="2.7" fill="#0626f2"/><circle cx="1693.1" cy="199.3" r="2.7" fill="#0626f2"/><circle cx="1697.3" cy="194.8" r="2.7" fill="#0626f2"/><circle cx="1697.3" cy="200.7" r="2.7" fill="#0626f2"/><circle cx="1704.9" cy="196.0" r="2.7" fill="#0626f2"/><circle cx="1709.6" cy="195.7" r="2.7" fill="#0626f2"/><circle cx="1714.3" cy="196.6" r="2.7" fill="#0626f2"/><circle cx="1717.9" cy="195.7" r="2.7" fill="#0626f2"/><circle cx="1721.4" cy="194.3" r="2.7" fill="#0626f2"/><circle cx="1725.6" cy="193.7" r="2.7" fill="#0626f2"/><circle cx="1729.7" cy="194.5" r="2.7" fill="#0626f2"/><circle cx="1733.8" cy="195.4" r="2.7" fill="#0626f2"/><circle cx="1737.9" cy="194.0" r="2.7" fill="#0626f2"/><circle cx="1742.1" cy="197.2" r="2.7" fill="#0626f2"/><circle cx="1725.6" cy="199.9" r="2.7" fill="#0626f2"/><circle cx="1733.8" cy="201.6" r="2.7" fill="#0626f2"/><circle cx="1737.9" cy="199.0" r="2.7" fill="#0626f2"/><circle cx="1742.4" cy="203.1" r="2.7" fill="#0626f2"/><circle cx="1701.4" cy="202.5" r="2.7" fill="#0626f2"/><circle cx="1704.9" cy="201.5" r="2.7" fill="#0626f2"/><circle cx="1709.6" cy="201.5" r="2.7" fill="#0626f2"/><circle cx="1713.2" cy="201.5" r="2.7" fill="#0626f2"/><circle cx="1676.6" cy="207.5" r="2.7" fill="#0626f2"/><circle cx="1680.7" cy="207.2" r="2.7" fill="#0626f2"/><circle cx="1684.9" cy="205.5" r="2.7" fill="#0626f2"/><circle cx="1689.0" cy="207.8" r="2.7" fill="#0626f2"/><circle cx="1693.1" cy="206.9" r="2.7" fill="#0626f2"/><circle cx="1697.3" cy="205.5" r="2.7" fill="#0626f2"/><circle cx="1701.4" cy="209.6" r="2.7" fill="#0626f2"/><circle cx="1704.9" cy="207.8" r="2.7" fill="#0626f2"/><circle cx="1709.6" cy="206.6" r="2.7" fill="#0626f2"/><circle cx="1713.2" cy="209.3" r="2.7" fill="#0626f2"/><circle cx="1717.3" cy="204.9" r="2.7" fill="#0626f2"/><circle cx="1721.4" cy="206.6" r="2.7" fill="#0626f2"/><circle cx="1725.6" cy="204.9" r="2.7" fill="#0626f2"/><circle cx="1729.7" cy="207.5" r="2.7" fill="#0626f2"/><circle cx="1733.8" cy="207.5" r="2.7" fill="#0626f2"/><circle cx="1737.9" cy="207.2" r="2.7" fill="#0626f2"/><circle cx="1721.4" cy="211.6" r="2.7" fill="#0626f2"/><circle cx="1693.1" cy="212.5" r="2.7" fill="#0626f2"/><circle cx="1709.6" cy="214.0" r="2.7" fill="#0626f2"/><circle cx="1717.6" cy="214.0" r="2.7" fill="#0626f2"/><circle cx="1706.7" cy="209.3" r="2.7" fill="#0626f2"/><circle cx="1699.0" cy="209.0" r="2.7" fill="#0626f2"/><circle cx="1729.0" cy="203.5" r="2.7" fill="#0626f2"/><circle cx="1690.0" cy="202.0" r="2.7" fill="#0626f2"/><circle cx="1819.5" cy="119.8" r="2.7" fill="#fa2a0a"/><circle cx="1819.6" cy="149.1" r="2.7" fill="#fa2a0a"/><circle cx="1816.2" cy="160.9" r="2.7" fill="#fa2a0a"/><circle cx="1819.8" cy="162.5" r="2.7" fill="#fa2a0a"/><circle cx="1822.9" cy="164.9" r="2.7" fill="#fa2a0a"/><circle cx="1816.2" cy="168.6" r="2.7" fill="#fa2a0a"/><circle cx="1819.8" cy="167.7" r="2.7" fill="#fa2a0a"/><circle cx="1816.2" cy="177.9" r="2.7" fill="#fa2a0a"/><circle cx="1802.2" cy="180.1" r="2.7" fill="#fa2a0a"/><circle cx="1805.8" cy="181.9" r="2.7" fill="#fa2a0a"/><circle cx="1812.5" cy="182.5" r="2.7" fill="#fa2a0a"/><circle cx="1830.1" cy="179.1" r="2.7" fill="#fa2a0a"/><circle cx="1836.8" cy="179.9" r="2.7" fill="#fa2a0a"/><circle cx="1819.8" cy="181.9" r="2.7" fill="#fa2a0a"/><circle cx="1826.5" cy="184.3" r="2.7" fill="#fa2a0a"/><circle cx="1833.2" cy="185.9" r="2.7" fill="#fa2a0a"/><circle cx="1836.8" cy="186.2" r="2.7" fill="#fa2a0a"/><circle cx="1819.8" cy="186.8" r="2.7" fill="#fa2a0a"/><circle cx="1802.2" cy="189.2" r="2.7" fill="#fa2a0a"/><circle cx="1805.8" cy="188.0" r="2.7" fill="#fa2a0a"/><circle cx="1809.5" cy="188.6" r="2.7" fill="#fa2a0a"/><circle cx="1812.5" cy="189.8" r="2.7" fill="#fa2a0a"/><circle cx="1816.2" cy="190.4" r="2.7" fill="#fa2a0a"/><circle cx="1823.5" cy="189.2" r="2.7" fill="#fa2a0a"/><circle cx="1826.5" cy="189.6" r="2.7" fill="#fa2a0a"/><circle cx="1830.1" cy="189.8" r="2.7" fill="#fa2a0a"/><circle cx="1791.6" cy="191.3" r="2.7" fill="#fa2a0a"/><circle cx="1847.2" cy="190.4" r="2.7" fill="#fa2a0a"/><circle cx="1797.9" cy="195.3" r="2.7" fill="#fa2a0a"/><circle cx="1802.2" cy="195.9" r="2.7" fill="#fa2a0a"/><circle cx="1833.2" cy="195.3" r="2.7" fill="#fa2a0a"/><circle cx="1842.9" cy="196.1" r="2.7" fill="#fa2a0a"/><circle cx="1847.2" cy="197.1" r="2.7" fill="#fa2a0a"/><circle cx="1854.4" cy="195.7" r="2.7" fill="#fa2a0a"/><circle cx="1784.6" cy="199.3" r="2.7" fill="#fa2a0a"/><circle cx="1791.6" cy="198.1" r="2.7" fill="#fa2a0a"/><circle cx="1805.2" cy="198.3" r="2.7" fill="#fa2a0a"/><circle cx="1812.5" cy="199.5" r="2.7" fill="#fa2a0a"/><circle cx="1823.5" cy="198.9" r="2.7" fill="#fa2a0a"/><circle cx="1826.5" cy="199.5" r="2.7" fill="#fa2a0a"/><circle cx="1833.2" cy="200.1" r="2.7" fill="#fa2a0a"/><circle cx="1837.4" cy="200.1" r="2.7" fill="#fa2a0a"/><circle cx="1842.9" cy="200.8" r="2.7" fill="#fa2a0a"/><circle cx="1850.2" cy="201.4" r="2.7" fill="#fa2a0a"/><circle cx="1854.4" cy="201.4" r="2.7" fill="#fa2a0a"/><circle cx="1812.5" cy="212.6" r="2.7" fill="#fa2a0a"/><circle cx="1819.8" cy="212.0" r="2.7" fill="#fa2a0a"/><circle cx="1826.5" cy="216.6" r="2.7" fill="#fa2a0a"/><circle cx="1784.5" cy="202.0" r="2.7" fill="#fa2a0a"/><circle cx="1794.5" cy="202.5" r="2.7" fill="#fa2a0a"/><circle cx="1798.0" cy="202.0" r="2.7" fill="#fa2a0a"/><circle cx="1801.6" cy="202.0" r="2.7" fill="#fa2a0a"/><circle cx="1805.1" cy="202.5" r="2.7" fill="#fa2a0a"/><circle cx="1825.2" cy="200.3" r="2.7" fill="#fa2a0a"/><circle cx="1829.3" cy="200.3" r="2.7" fill="#fa2a0a"/><circle cx="1840.5" cy="200.3" r="2.7" fill="#fa2a0a"/><circle cx="1844.0" cy="202.5" r="2.7" fill="#fa2a0a"/><circle cx="1850.5" cy="202.5" r="2.7" fill="#fa2a0a"/><circle cx="1854.7" cy="202.2" r="2.7" fill="#fa2a0a"/><circle cx="1784.5" cy="206.6" r="2.7" fill="#fa2a0a"/><circle cx="1788.0" cy="205.5" r="2.7" fill="#fa2a0a"/><circle cx="1797.5" cy="206.6" r="2.7" fill="#fa2a0a"/><circle cx="1801.6" cy="205.5" r="2.7" fill="#fa2a0a"/><circle cx="1805.7" cy="206.6" r="2.7" fill="#fa2a0a"/><circle cx="1809.3" cy="206.9" r="2.7" fill="#fa2a0a"/><circle cx="1814.6" cy="207.5" r="2.7" fill="#fa2a0a"/><circle cx="1821.6" cy="206.9" r="2.7" fill="#fa2a0a"/><circle cx="1829.3" cy="205.8" r="2.7" fill="#fa2a0a"/><circle cx="1833.4" cy="207.8" r="2.7" fill="#fa2a0a"/><circle cx="1837.0" cy="205.5" r="2.7" fill="#fa2a0a"/><circle cx="1840.5" cy="207.5" r="2.7" fill="#fa2a0a"/><circle cx="1844.0" cy="206.6" r="2.7" fill="#fa2a0a"/><circle cx="1848.2" cy="207.2" r="2.7" fill="#fa2a0a"/><circle cx="1854.7" cy="206.6" r="2.7" fill="#fa2a0a"/><circle cx="1788.0" cy="211.4" r="2.7" fill="#fa2a0a"/><circle cx="1794.5" cy="211.4" r="2.7" fill="#fa2a0a"/><circle cx="1798.6" cy="209.3" r="2.7" fill="#fa2a0a"/><circle cx="1805.1" cy="210.8" r="2.7" fill="#fa2a0a"/><circle cx="1812.2" cy="211.8" r="2.7" fill="#fa2a0a"/><circle cx="1820.5" cy="211.8" r="2.7" fill="#fa2a0a"/><circle cx="1824.0" cy="210.5" r="2.7" fill="#fa2a0a"/><circle cx="1833.4" cy="209.9" r="2.7" fill="#fa2a0a"/><circle cx="1840.5" cy="210.2" r="2.7" fill="#fa2a0a"/><circle cx="1847.6" cy="210.2" r="2.7" fill="#fa2a0a"/><circle cx="1791.0" cy="208.5" r="2.7" fill="#fa2a0a"/><circle cx="1817.0" cy="203.5" r="2.7" fill="#fa2a0a"/><circle cx="1828.0" cy="212.0" r="2.7" fill="#fa2a0a"/><circle cx="1852.0" cy="209.0" r="2.7" fill="#fa2a0a"/><path d="M1707.5 203.6 V196.6 M1698.4 196.6 H1716.6 M1698.4 203.6 H1716.6" stroke="#555" stroke-width="1.3" fill="none"/><path d="M1695.5 199.3 H1719.5" stroke="#000" stroke-width="2"/><path d="M1819.9 210.8 V179.5 M1810.6 179.5 H1829.2 M1810.6 210.8 H1829.2" stroke="#222" stroke-width="1.5" fill="none"/><path d="M1808.1 195.3 H1831.8" stroke="#000" stroke-width="2"/></g>
<g><text transform="translate(4.0 301.9) scale(0.965 1)" font-size="43">F</text><path d="M75.8 339.3 V515.1 M74.8 515.1 H337.6" stroke="#000" stroke-width="2" fill="none"/><path d="M68.8 515.1 H75.8" stroke="#000" stroke-width="2"/><text x="65.5" y="520.0" font-size="13.3" text-anchor="end">0</text><path d="M68.8 480.1 H75.8" stroke="#000" stroke-width="2"/><text x="65.5" y="485.0" font-size="13.3" text-anchor="end">2000</text><path d="M68.8 445.2 H75.8" stroke="#000" stroke-width="2"/><text x="65.5" y="450.1" font-size="13.3" text-anchor="end">4000</text><path d="M68.8 410.2 H75.8" stroke="#000" stroke-width="2"/><text x="65.5" y="415.1" font-size="13.3" text-anchor="end">6000</text><path d="M68.8 375.3 H75.8" stroke="#000" stroke-width="2"/><text x="65.5" y="380.2" font-size="13.3" text-anchor="end">8000</text><path d="M68.8 340.3 H75.8" stroke="#000" stroke-width="2"/><text x="65.5" y="345.2" font-size="13.3" text-anchor="end">10000</text><path d="M150.4 515.1 V522.6" stroke="#000" stroke-width="2"/><text x="150.4" y="537.6" font-size="13.8" text-anchor="middle">No LAE</text><path d="M262.8 515.1 V522.6" stroke="#000" stroke-width="2"/><text x="262.8" y="537.6" font-size="13.8" text-anchor="middle">LAE</text><text transform="translate(19.2 428.4) rotate(-90)" font-size="14" text-anchor="middle">sP-selectin AUC (ng/mL)</text><circle cx="150.5" cy="351.4" r="2.7" fill="#0626f2"/><circle cx="150.5" cy="384.5" r="2.7" fill="#0626f2"/><circle cx="150.5" cy="393.3" r="2.7" fill="#0626f2"/><circle cx="150.5" cy="400.3" r="2.7" fill="#0626f2"/><circle cx="146.8" cy="421.5" r="2.7" fill="#0626f2"/><circle cx="154.4" cy="426.5" r="2.7" fill="#0626f2"/><circle cx="154.4" cy="434.6" r="2.7" fill="#0626f2"/><circle cx="139.0" cy="437.2" r="2.7" fill="#0626f2"/><circle cx="146.8" cy="438.0" r="2.7" fill="#0626f2"/><circle cx="162.2" cy="437.2" r="2.7" fill="#0626f2"/><circle cx="139.0" cy="443.5" r="2.7" fill="#0626f2"/><circle cx="169.9" cy="444.1" r="2.7" fill="#0626f2"/><circle cx="131.3" cy="445.6" r="2.7" fill="#0626f2"/><circle cx="162.2" cy="445.8" r="2.7" fill="#0626f2"/><circle cx="146.8" cy="447.0" r="2.7" fill="#0626f2"/><circle cx="154.4" cy="447.3" r="2.7" fill="#0626f2"/><circle cx="131.3" cy="451.6" r="2.7" fill="#0626f2"/><circle cx="162.2" cy="451.3" r="2.7" fill="#0626f2"/><circle cx="169.9" cy="451.5" r="2.7" fill="#0626f2"/><circle cx="154.4" cy="453.0" r="2.7" fill="#0626f2"/><circle cx="139.0" cy="455.6" r="2.7" fill="#0626f2"/><circle cx="131.3" cy="457.9" r="2.7" fill="#0626f2"/><circle cx="146.8" cy="458.9" r="2.7" fill="#0626f2"/><circle cx="169.9" cy="458.9" r="2.7" fill="#0626f2"/><circle cx="123.7" cy="459.5" r="2.7" fill="#0626f2"/><circle cx="154.4" cy="460.7" r="2.7" fill="#0626f2"/><circle cx="138.9" cy="462.5" r="2.7" fill="#0626f2"/><circle cx="162.2" cy="462.3" r="2.7" fill="#0626f2"/><circle cx="177.5" cy="462.5" r="2.7" fill="#0626f2"/><circle cx="115.8" cy="465.6" r="2.7" fill="#0626f2"/><circle cx="123.7" cy="465.0" r="2.7" fill="#0626f2"/><circle cx="131.3" cy="465.2" r="2.7" fill="#0626f2"/><circle cx="154.4" cy="466.2" r="2.7" fill="#0626f2"/><circle cx="185.4" cy="466.8" r="2.7" fill="#0626f2"/><circle cx="177.5" cy="468.0" r="2.7" fill="#0626f2"/><circle cx="162.2" cy="468.4" r="2.7" fill="#0626f2"/><circle cx="146.8" cy="469.8" r="2.7" fill="#0626f2"/><circle cx="139.0" cy="470.5" r="2.7" fill="#0626f2"/><circle cx="115.8" cy="471.2" r="2.7" fill="#0626f2"/><circle cx="123.5" cy="470.6" r="2.7" fill="#0626f2"/><circle cx="131.3" cy="470.9" r="2.7" fill="#0626f2"/><circle cx="185.4" cy="472.5" r="2.7" fill="#0626f2"/><circle cx="154.4" cy="472.9" r="2.7" fill="#0626f2"/><circle cx="177.5" cy="473.4" r="2.7" fill="#0626f2"/><circle cx="162.2" cy="474.6" r="2.7" fill="#0626f2"/><circle cx="115.8" cy="477.5" r="2.7" fill="#0626f2"/><circle cx="123.6" cy="478.0" r="2.7" fill="#0626f2"/><circle cx="131.3" cy="477.0" r="2.7" fill="#0626f2"/><circle cx="146.8" cy="478.1" r="2.7" fill="#0626f2"/><circle cx="154.4" cy="478.3" r="2.7" fill="#0626f2"/><circle cx="139.0" cy="479.2" r="2.7" fill="#0626f2"/><circle cx="177.5" cy="479.5" r="2.7" fill="#0626f2"/><circle cx="169.9" cy="480.2" r="2.7" fill="#0626f2"/><circle cx="162.2" cy="481.5" r="2.7" fill="#0626f2"/><circle cx="131.3" cy="482.8" r="2.7" fill="#0626f2"/><circle cx="146.8" cy="483.5" r="2.7" fill="#0626f2"/><circle cx="154.4" cy="483.6" r="2.7" fill="#0626f2"/><circle cx="150.5" cy="504.3" r="2.7" fill="#0626f2"/><circle cx="265.5" cy="400.0" r="2.7" fill="#fa2a0a"/><circle cx="260.1" cy="402.2" r="2.7" fill="#fa2a0a"/><circle cx="260.1" cy="407.7" r="2.7" fill="#fa2a0a"/><circle cx="265.5" cy="408.0" r="2.7" fill="#fa2a0a"/><circle cx="262.8" cy="420.2" r="2.7" fill="#fa2a0a"/><circle cx="249.5" cy="428.5" r="2.7" fill="#fa2a0a"/><circle cx="254.8" cy="428.5" r="2.7" fill="#fa2a0a"/><circle cx="265.5" cy="431.2" r="2.7" fill="#fa2a0a"/><circle cx="276.3" cy="431.2" r="2.7" fill="#fa2a0a"/><circle cx="249.5" cy="434.0" r="2.7" fill="#fa2a0a"/><circle cx="254.8" cy="435.0" r="2.7" fill="#fa2a0a"/><circle cx="270.8" cy="434.2" r="2.7" fill="#fa2a0a"/><circle cx="265.5" cy="437.5" r="2.7" fill="#fa2a0a"/><circle cx="249.5" cy="439.5" r="2.7" fill="#fa2a0a"/><circle cx="270.8" cy="439.7" r="2.7" fill="#fa2a0a"/><circle cx="276.3" cy="439.0" r="2.7" fill="#fa2a0a"/><circle cx="260.1" cy="441.9" r="2.7" fill="#fa2a0a"/><circle cx="244.1" cy="445.6" r="2.7" fill="#fa2a0a"/><circle cx="270.8" cy="445.2" r="2.7" fill="#fa2a0a"/><circle cx="238.8" cy="447.8" r="2.7" fill="#fa2a0a"/><circle cx="254.8" cy="449.1" r="2.7" fill="#fa2a0a"/><circle cx="260.1" cy="448.9" r="2.7" fill="#fa2a0a"/><circle cx="244.1" cy="452.2" r="2.7" fill="#fa2a0a"/><circle cx="249.5" cy="452.6" r="2.7" fill="#fa2a0a"/><circle cx="265.5" cy="451.9" r="2.7" fill="#fa2a0a"/><circle cx="270.8" cy="450.8" r="2.7" fill="#fa2a0a"/><circle cx="276.3" cy="450.8" r="2.7" fill="#fa2a0a"/><circle cx="281.5" cy="452.6" r="2.7" fill="#fa2a0a"/><circle cx="254.8" cy="455.5" r="2.7" fill="#fa2a0a"/><circle cx="260.1" cy="456.0" r="2.7" fill="#fa2a0a"/><circle cx="270.8" cy="456.6" r="2.7" fill="#fa2a0a"/><circle cx="276.3" cy="456.6" r="2.7" fill="#fa2a0a"/><circle cx="265.5" cy="459.4" r="2.7" fill="#fa2a0a"/><circle cx="244.1" cy="461.3" r="2.7" fill="#fa2a0a"/><circle cx="233.3" cy="464.3" r="2.7" fill="#fa2a0a"/><circle cx="238.8" cy="463.6" r="2.7" fill="#fa2a0a"/><circle cx="270.8" cy="463.2" r="2.7" fill="#fa2a0a"/><circle cx="276.3" cy="464.3" r="2.7" fill="#fa2a0a"/><circle cx="281.5" cy="464.0" r="2.7" fill="#fa2a0a"/><circle cx="286.8" cy="462.7" r="2.7" fill="#fa2a0a"/><circle cx="292.3" cy="461.0" r="2.7" fill="#fa2a0a"/><circle cx="260.1" cy="462.4" r="2.7" fill="#fa2a0a"/><circle cx="244.1" cy="467.4" r="2.7" fill="#fa2a0a"/><circle cx="254.8" cy="465.8" r="2.7" fill="#fa2a0a"/><circle cx="260.1" cy="468.0" r="2.7" fill="#fa2a0a"/><circle cx="265.5" cy="466.9" r="2.7" fill="#fa2a0a"/><circle cx="292.3" cy="466.9" r="2.7" fill="#fa2a0a"/><circle cx="233.3" cy="471.0" r="2.7" fill="#fa2a0a"/><circle cx="238.8" cy="471.3" r="2.7" fill="#fa2a0a"/><circle cx="249.5" cy="470.4" r="2.7" fill="#fa2a0a"/><circle cx="254.8" cy="471.5" r="2.7" fill="#fa2a0a"/><circle cx="265.5" cy="472.1" r="2.7" fill="#fa2a0a"/><circle cx="276.3" cy="470.4" r="2.7" fill="#fa2a0a"/><circle cx="281.5" cy="471.3" r="2.7" fill="#fa2a0a"/><circle cx="286.8" cy="469.5" r="2.7" fill="#fa2a0a"/><circle cx="292.3" cy="471.8" r="2.7" fill="#fa2a0a"/><circle cx="244.1" cy="474.6" r="2.7" fill="#fa2a0a"/><circle cx="249.5" cy="475.4" r="2.7" fill="#fa2a0a"/><circle cx="260.1" cy="474.3" r="2.7" fill="#fa2a0a"/><circle cx="270.8" cy="473.9" r="2.7" fill="#fa2a0a"/><circle cx="276.3" cy="475.7" r="2.7" fill="#fa2a0a"/><circle cx="286.8" cy="474.8" r="2.7" fill="#fa2a0a"/><circle cx="254.8" cy="477.2" r="2.7" fill="#fa2a0a"/><circle cx="265.5" cy="478.7" r="2.7" fill="#fa2a0a"/><circle cx="281.5" cy="477.9" r="2.7" fill="#fa2a0a"/><circle cx="292.3" cy="477.6" r="2.7" fill="#fa2a0a"/><circle cx="270.8" cy="480.1" r="2.7" fill="#fa2a0a"/><circle cx="276.3" cy="480.9" r="2.7" fill="#fa2a0a"/><circle cx="286.8" cy="480.9" r="2.7" fill="#fa2a0a"/><circle cx="228.0" cy="483.1" r="2.7" fill="#fa2a0a"/><circle cx="233.3" cy="482.0" r="2.7" fill="#fa2a0a"/><circle cx="238.8" cy="485.1" r="2.7" fill="#fa2a0a"/><circle cx="244.1" cy="484.5" r="2.7" fill="#fa2a0a"/><circle cx="249.5" cy="482.5" r="2.7" fill="#fa2a0a"/><circle cx="254.8" cy="482.0" r="2.7" fill="#fa2a0a"/><circle cx="281.5" cy="483.4" r="2.7" fill="#fa2a0a"/><circle cx="292.3" cy="483.6" r="2.7" fill="#fa2a0a"/><circle cx="297.8" cy="483.1" r="2.7" fill="#fa2a0a"/><circle cx="260.1" cy="485.6" r="2.7" fill="#fa2a0a"/><circle cx="265.5" cy="485.9" r="2.7" fill="#fa2a0a"/><circle cx="270.8" cy="485.6" r="2.7" fill="#fa2a0a"/><circle cx="254.8" cy="489.7" r="2.7" fill="#fa2a0a"/><circle cx="276.3" cy="488.4" r="2.7" fill="#fa2a0a"/><circle cx="265.5" cy="493.6" r="2.7" fill="#fa2a0a"/><circle cx="262.8" cy="500.8" r="2.7" fill="#fa2a0a"/><path d="M150.4 469.9 V458.0 M141.1 458.0 H159.6 M141.1 469.9 H159.6" stroke="#555" stroke-width="1.3" fill="none"/><path d="M138.4 464.1 H162.4" stroke="#000" stroke-width="2"/><path d="M262.8 483.1 V439.5 M253.3 439.5 H272.3 M253.3 483.1 H272.3" stroke="#111" stroke-width="1.5" fill="none"/><path d="M250.8 461.2 H274.8" stroke="#000" stroke-width="2"/></g>
<g><text transform="translate(382.8 301.9) scale(0.965 1)" font-size="43">G</text><path d="M460.6 338.5 V513.8 M459.6 513.8 H722.4" stroke="#000" stroke-width="2" fill="none"/><path d="M453.6 513.8 H460.6" stroke="#000" stroke-width="2"/><text x="450.3" y="518.7" font-size="13.3" text-anchor="end">0</text><path d="M453.6 470.2 H460.6" stroke="#000" stroke-width="2"/><text x="450.3" y="475.1" font-size="13.3" text-anchor="end">1000</text><path d="M453.6 426.6 H460.6" stroke="#000" stroke-width="2"/><text x="450.3" y="431.5" font-size="13.3" text-anchor="end">2000</text><path d="M453.6 383.1 H460.6" stroke="#000" stroke-width="2"/><text x="450.3" y="388.0" font-size="13.3" text-anchor="end">3000</text><path d="M453.6 339.5 H460.6" stroke="#000" stroke-width="2"/><text x="450.3" y="344.4" font-size="13.3" text-anchor="end">4000</text><path d="M535.2 513.8 V521.3" stroke="#000" stroke-width="2"/><text x="535.2" y="536.3" font-size="13.8" text-anchor="middle">No LAE</text><path d="M647.6 513.8 V521.3" stroke="#000" stroke-width="2"/><text x="647.6" y="536.3" font-size="13.8" text-anchor="middle">LAE</text><text transform="translate(411.4 427.3) rotate(-90)" font-size="14" text-anchor="middle">sST2 AUC (ng/mL)</text><circle cx="535.5" cy="373.8" r="2.7" fill="#0626f2"/><circle cx="535.5" cy="420.3" r="2.7" fill="#0626f2"/><circle cx="535.5" cy="437.4" r="2.7" fill="#0626f2"/><circle cx="541.2" cy="439.5" r="2.7" fill="#0626f2"/><circle cx="529.6" cy="441.3" r="2.7" fill="#0626f2"/><circle cx="535.5" cy="443.5" r="2.7" fill="#0626f2"/><circle cx="523.9" cy="449.5" r="2.7" fill="#0626f2"/><circle cx="535.5" cy="448.7" r="2.7" fill="#0626f2"/><circle cx="541.2" cy="451.4" r="2.7" fill="#0626f2"/><circle cx="546.9" cy="453.4" r="2.7" fill="#0626f2"/><circle cx="535.5" cy="454.5" r="2.7" fill="#0626f2"/><circle cx="535.5" cy="461.2" r="2.7" fill="#0626f2"/><circle cx="529.6" cy="467.2" r="2.7" fill="#0626f2"/><circle cx="541.2" cy="470.2" r="2.7" fill="#0626f2"/><circle cx="523.9" cy="472.1" r="2.7" fill="#0626f2"/><circle cx="529.6" cy="474.1" r="2.7" fill="#0626f2"/><circle cx="535.4" cy="475.3" r="2.7" fill="#0626f2"/><circle cx="517.9" cy="478.2" r="2.7" fill="#0626f2"/><circle cx="541.0" cy="478.2" r="2.7" fill="#0626f2"/><circle cx="529.5" cy="480.8" r="2.7" fill="#0626f2"/><circle cx="546.9" cy="480.2" r="2.7" fill="#0626f2"/><circle cx="552.6" cy="480.2" r="2.7" fill="#0626f2"/><circle cx="558.7" cy="480.8" r="2.7" fill="#0626f2"/><circle cx="517.9" cy="484.2" r="2.7" fill="#0626f2"/><circle cx="535.3" cy="484.2" r="2.7" fill="#0626f2"/><circle cx="506.4" cy="487.3" r="2.7" fill="#0626f2"/><circle cx="512.1" cy="487.9" r="2.7" fill="#0626f2"/><circle cx="523.8" cy="486.9" r="2.7" fill="#0626f2"/><circle cx="529.5" cy="489.0" r="2.7" fill="#0626f2"/><circle cx="546.9" cy="487.8" r="2.7" fill="#0626f2"/><circle cx="558.7" cy="487.2" r="2.7" fill="#0626f2"/><circle cx="564.5" cy="489.6" r="2.7" fill="#0626f2"/><circle cx="535.3" cy="490.6" r="2.7" fill="#0626f2"/><circle cx="541.0" cy="490.6" r="2.7" fill="#0626f2"/><circle cx="552.6" cy="490.2" r="2.7" fill="#0626f2"/><circle cx="506.4" cy="493.0" r="2.7" fill="#0626f2"/><circle cx="558.7" cy="492.7" r="2.7" fill="#0626f2"/><circle cx="570.2" cy="493.0" r="2.7" fill="#0626f2"/><circle cx="517.9" cy="495.4" r="2.7" fill="#0626f2"/><circle cx="523.8" cy="496.6" r="2.7" fill="#0626f2"/><circle cx="535.3" cy="496.4" r="2.7" fill="#0626f2"/><circle cx="541.0" cy="496.4" r="2.7" fill="#0626f2"/><circle cx="546.9" cy="495.8" r="2.7" fill="#0626f2"/><circle cx="564.5" cy="495.4" r="2.7" fill="#0626f2"/><circle cx="500.7" cy="499.4" r="2.7" fill="#0626f2"/><circle cx="506.4" cy="500.0" r="2.7" fill="#0626f2"/><circle cx="512.1" cy="497.8" r="2.7" fill="#0626f2"/><circle cx="529.5" cy="498.2" r="2.7" fill="#0626f2"/><circle cx="558.7" cy="498.2" r="2.7" fill="#0626f2"/><circle cx="570.2" cy="499.7" r="2.7" fill="#0626f2"/><circle cx="552.6" cy="499.9" r="2.7" fill="#0626f2"/><circle cx="523.8" cy="501.9" r="2.7" fill="#0626f2"/><circle cx="517.9" cy="504.3" r="2.7" fill="#0626f2"/><circle cx="529.5" cy="503.9" r="2.7" fill="#0626f2"/><circle cx="535.3" cy="503.3" r="2.7" fill="#0626f2"/><circle cx="541.0" cy="506.0" r="2.7" fill="#0626f2"/><circle cx="546.9" cy="503.6" r="2.7" fill="#0626f2"/><circle cx="552.6" cy="506.0" r="2.7" fill="#0626f2"/><circle cx="647.7" cy="402.7" r="2.7" fill="#fa2a0a"/><circle cx="645.3" cy="415.1" r="2.7" fill="#fa2a0a"/><circle cx="649.9" cy="417.6" r="2.7" fill="#fa2a0a"/><circle cx="647.7" cy="426.8" r="2.7" fill="#fa2a0a"/><circle cx="640.8" cy="434.4" r="2.7" fill="#fa2a0a"/><circle cx="649.9" cy="436.1" r="2.7" fill="#fa2a0a"/><circle cx="654.6" cy="439.2" r="2.7" fill="#fa2a0a"/><circle cx="640.8" cy="442.7" r="2.7" fill="#fa2a0a"/><circle cx="645.3" cy="440.8" r="2.7" fill="#fa2a0a"/><circle cx="645.4" cy="449.6" r="2.7" fill="#fa2a0a"/><circle cx="659.4" cy="448.0" r="2.7" fill="#fa2a0a"/><circle cx="626.6" cy="453.7" r="2.7" fill="#fa2a0a"/><circle cx="631.8" cy="453.3" r="2.7" fill="#fa2a0a"/><circle cx="664.2" cy="452.9" r="2.7" fill="#fa2a0a"/><circle cx="668.7" cy="453.7" r="2.7" fill="#fa2a0a"/><circle cx="631.4" cy="459.0" r="2.7" fill="#fa2a0a"/><circle cx="636.3" cy="457.4" r="2.7" fill="#fa2a0a"/><circle cx="640.8" cy="455.9" r="2.7" fill="#fa2a0a"/><circle cx="645.4" cy="455.9" r="2.7" fill="#fa2a0a"/><circle cx="650.2" cy="455.3" r="2.7" fill="#fa2a0a"/><circle cx="654.9" cy="456.2" r="2.7" fill="#fa2a0a"/><circle cx="659.4" cy="458.6" r="2.7" fill="#fa2a0a"/><circle cx="664.2" cy="459.0" r="2.7" fill="#fa2a0a"/><circle cx="640.8" cy="462.0" r="2.7" fill="#fa2a0a"/><circle cx="645.4" cy="461.4" r="2.7" fill="#fa2a0a"/><circle cx="650.2" cy="460.8" r="2.7" fill="#fa2a0a"/><circle cx="654.9" cy="463.8" r="2.7" fill="#fa2a0a"/><circle cx="659.4" cy="466.3" r="2.7" fill="#fa2a0a"/><circle cx="626.6" cy="466.6" r="2.7" fill="#fa2a0a"/><circle cx="631.8" cy="466.9" r="2.7" fill="#fa2a0a"/><circle cx="636.3" cy="468.7" r="2.7" fill="#fa2a0a"/><circle cx="640.8" cy="468.1" r="2.7" fill="#fa2a0a"/><circle cx="645.4" cy="467.8" r="2.7" fill="#fa2a0a"/><circle cx="650.2" cy="466.9" r="2.7" fill="#fa2a0a"/><circle cx="664.2" cy="469.7" r="2.7" fill="#fa2a0a"/><circle cx="668.7" cy="470.3" r="2.7" fill="#fa2a0a"/><circle cx="612.6" cy="474.5" r="2.7" fill="#fa2a0a"/><circle cx="626.6" cy="472.7" r="2.7" fill="#fa2a0a"/><circle cx="631.8" cy="473.8" r="2.7" fill="#fa2a0a"/><circle cx="650.2" cy="474.2" r="2.7" fill="#fa2a0a"/><circle cx="673.3" cy="475.1" r="2.7" fill="#fa2a0a"/><circle cx="617.4" cy="479.0" r="2.7" fill="#fa2a0a"/><circle cx="622.1" cy="479.6" r="2.7" fill="#fa2a0a"/><circle cx="627.2" cy="479.4" r="2.7" fill="#fa2a0a"/><circle cx="631.8" cy="480.2" r="2.7" fill="#fa2a0a"/><circle cx="636.3" cy="477.8" r="2.7" fill="#fa2a0a"/><circle cx="640.8" cy="476.8" r="2.7" fill="#fa2a0a"/><circle cx="645.4" cy="477.6" r="2.7" fill="#fa2a0a"/><circle cx="650.2" cy="478.0" r="2.7" fill="#fa2a0a"/><circle cx="654.9" cy="477.2" r="2.7" fill="#fa2a0a"/><circle cx="659.4" cy="479.3" r="2.7" fill="#fa2a0a"/><circle cx="664.2" cy="479.3" r="2.7" fill="#fa2a0a"/><circle cx="668.7" cy="477.2" r="2.7" fill="#fa2a0a"/><circle cx="678.0" cy="480.0" r="2.7" fill="#fa2a0a"/><circle cx="626.6" cy="484.5" r="2.7" fill="#fa2a0a"/><circle cx="631.8" cy="486.6" r="2.7" fill="#fa2a0a"/><circle cx="636.3" cy="483.6" r="2.7" fill="#fa2a0a"/><circle cx="640.8" cy="482.1" r="2.7" fill="#fa2a0a"/><circle cx="650.2" cy="483.9" r="2.7" fill="#fa2a0a"/><circle cx="654.9" cy="483.6" r="2.7" fill="#fa2a0a"/><circle cx="659.4" cy="486.3" r="2.7" fill="#fa2a0a"/><circle cx="664.2" cy="486.1" r="2.7" fill="#fa2a0a"/><circle cx="668.7" cy="482.7" r="2.7" fill="#fa2a0a"/><circle cx="645.4" cy="486.3" r="2.7" fill="#fa2a0a"/><circle cx="626.6" cy="490.6" r="2.7" fill="#fa2a0a"/><circle cx="631.8" cy="493.6" r="2.7" fill="#fa2a0a"/><circle cx="636.3" cy="493.0" r="2.7" fill="#fa2a0a"/><circle cx="640.8" cy="490.6" r="2.7" fill="#fa2a0a"/><circle cx="654.9" cy="490.6" r="2.7" fill="#fa2a0a"/><circle cx="659.4" cy="491.2" r="2.7" fill="#fa2a0a"/><circle cx="664.2" cy="491.2" r="2.7" fill="#fa2a0a"/><circle cx="668.7" cy="488.1" r="2.7" fill="#fa2a0a"/><circle cx="626.6" cy="495.2" r="2.7" fill="#fa2a0a"/><circle cx="645.4" cy="494.6" r="2.7" fill="#fa2a0a"/><circle cx="650.2" cy="494.8" r="2.7" fill="#fa2a0a"/><circle cx="659.4" cy="497.0" r="2.7" fill="#fa2a0a"/><circle cx="668.7" cy="495.2" r="2.7" fill="#fa2a0a"/><circle cx="631.4" cy="500.6" r="2.7" fill="#fa2a0a"/><circle cx="640.8" cy="500.3" r="2.7" fill="#fa2a0a"/><circle cx="645.4" cy="499.9" r="2.7" fill="#fa2a0a"/><circle cx="650.2" cy="501.5" r="2.7" fill="#fa2a0a"/><circle cx="654.9" cy="501.5" r="2.7" fill="#fa2a0a"/><circle cx="664.2" cy="500.6" r="2.7" fill="#fa2a0a"/><circle cx="640.8" cy="506.4" r="2.7" fill="#fa2a0a"/><path d="M535.2 493.0 V480.5 M526.1 480.5 H544.3 M526.1 493.0 H544.3" stroke="#555" stroke-width="1.3" fill="none"/><path d="M523.4 487.9 H547.1" stroke="#000" stroke-width="2"/><path d="M647.6 493.0 V450.5 M638.1 450.5 H657.1 M638.1 493.0 H657.1" stroke="#222" stroke-width="1.5" fill="none"/><path d="M635.7 471.7 H659.5" stroke="#000" stroke-width="2"/><path d="M533.3 341.1 V326.3 H645.7 V341.1" stroke="#808080" stroke-width="1.3" fill="none"/><text x="589.9" y="325.4" font-size="21" letter-spacing="0.7" text-anchor="middle">**</text></g>
<g><text transform="translate(776.5 301.9) scale(0.965 1)" font-size="43">H</text><path d="M853.1 339.1 V515.2 M852.1 515.2 H1114.9" stroke="#000" stroke-width="2" fill="none"/><path d="M846.1 515.2 H853.1" stroke="#000" stroke-width="2"/><text x="842.8" y="520.1" font-size="13.3" text-anchor="end">0</text><path d="M846.1 471.4 H853.1" stroke="#000" stroke-width="2"/><text x="842.8" y="476.3" font-size="13.3" text-anchor="end">20000</text><path d="M846.1 427.7 H853.1" stroke="#000" stroke-width="2"/><text x="842.8" y="432.6" font-size="13.3" text-anchor="end">40000</text><path d="M846.1 383.9 H853.1" stroke="#000" stroke-width="2"/><text x="842.8" y="388.8" font-size="13.3" text-anchor="end">60000</text><path d="M846.1 340.1 H853.1" stroke="#000" stroke-width="2"/><text x="842.8" y="345.0" font-size="13.3" text-anchor="end">80000</text><path d="M927.7 515.2 V522.7" stroke="#000" stroke-width="2"/><text x="927.7" y="537.7" font-size="13.8" text-anchor="middle">No LAE</text><path d="M1040.1 515.2 V522.7" stroke="#000" stroke-width="2"/><text x="1040.1" y="537.7" font-size="13.8" text-anchor="middle">LAE</text><text transform="translate(796.5 428.4) rotate(-90)" font-size="14" text-anchor="middle">sTNFR1 AUC (pg/mL)</text><circle cx="928.2" cy="352.3" r="2.7" fill="#0626f2"/><circle cx="921.1" cy="378.0" r="2.7" fill="#0626f2"/><circle cx="928.2" cy="381.1" r="2.7" fill="#0626f2"/><circle cx="928.2" cy="397.2" r="2.7" fill="#0626f2"/><circle cx="924.3" cy="407.2" r="2.7" fill="#0626f2"/><circle cx="931.6" cy="405.8" r="2.7" fill="#0626f2"/><circle cx="928.2" cy="414.5" r="2.7" fill="#0626f2"/><circle cx="935.0" cy="416.2" r="2.7" fill="#0626f2"/><circle cx="914.0" cy="419.2" r="2.7" fill="#0626f2"/><circle cx="921.1" cy="419.2" r="2.7" fill="#0626f2"/><circle cx="928.2" cy="422.0" r="2.7" fill="#0626f2"/><circle cx="935.0" cy="422.4" r="2.7" fill="#0626f2"/><circle cx="935.0" cy="430.3" r="2.7" fill="#0626f2"/><circle cx="921.1" cy="433.2" r="2.7" fill="#0626f2"/><circle cx="935.0" cy="436.8" r="2.7" fill="#0626f2"/><circle cx="914.0" cy="440.8" r="2.7" fill="#0626f2"/><circle cx="921.1" cy="440.8" r="2.7" fill="#0626f2"/><circle cx="928.2" cy="445.1" r="2.7" fill="#0626f2"/><circle cx="942.0" cy="445.1" r="2.7" fill="#0626f2"/><circle cx="935.0" cy="447.5" r="2.7" fill="#0626f2"/><circle cx="914.0" cy="448.4" r="2.7" fill="#0626f2"/><circle cx="942.0" cy="451.5" r="2.7" fill="#0626f2"/><circle cx="921.1" cy="452.6" r="2.7" fill="#0626f2"/><circle cx="928.2" cy="452.6" r="2.7" fill="#0626f2"/><circle cx="914.0" cy="455.1" r="2.7" fill="#0626f2"/><circle cx="935.0" cy="456.3" r="2.7" fill="#0626f2"/><circle cx="942.0" cy="459.3" r="2.7" fill="#0626f2"/><circle cx="914.0" cy="461.5" r="2.7" fill="#0626f2"/><circle cx="921.1" cy="461.5" r="2.7" fill="#0626f2"/><circle cx="928.2" cy="461.5" r="2.7" fill="#0626f2"/><circle cx="948.9" cy="461.5" r="2.7" fill="#0626f2"/><circle cx="907.0" cy="465.1" r="2.7" fill="#0626f2"/><circle cx="942.0" cy="465.1" r="2.7" fill="#0626f2"/><circle cx="963.0" cy="465.8" r="2.7" fill="#0626f2"/><circle cx="893.4" cy="467.2" r="2.7" fill="#0626f2"/><circle cx="900.0" cy="469.4" r="2.7" fill="#0626f2"/><circle cx="914.0" cy="469.2" r="2.7" fill="#0626f2"/><circle cx="921.1" cy="468.2" r="2.7" fill="#0626f2"/><circle cx="928.2" cy="467.6" r="2.7" fill="#0626f2"/><circle cx="935.0" cy="467.9" r="2.7" fill="#0626f2"/><circle cx="942.0" cy="470.6" r="2.7" fill="#0626f2"/><circle cx="948.9" cy="469.4" r="2.7" fill="#0626f2"/><circle cx="955.9" cy="468.8" r="2.7" fill="#0626f2"/><circle cx="893.4" cy="473.0" r="2.7" fill="#0626f2"/><circle cx="914.0" cy="474.9" r="2.7" fill="#0626f2"/><circle cx="921.1" cy="474.5" r="2.7" fill="#0626f2"/><circle cx="928.2" cy="473.7" r="2.7" fill="#0626f2"/><circle cx="935.0" cy="473.7" r="2.7" fill="#0626f2"/><circle cx="963.0" cy="472.5" r="2.7" fill="#0626f2"/><circle cx="928.2" cy="479.2" r="2.7" fill="#0626f2"/><circle cx="921.1" cy="482.4" r="2.7" fill="#0626f2"/><circle cx="935.0" cy="483.9" r="2.7" fill="#0626f2"/><circle cx="928.2" cy="486.9" r="2.7" fill="#0626f2"/><circle cx="914.0" cy="515.2" r="2.7" fill="#0626f2"/><circle cx="921.1" cy="515.2" r="2.7" fill="#0626f2"/><circle cx="928.2" cy="515.2" r="2.7" fill="#0626f2"/><circle cx="935.0" cy="515.2" r="2.7" fill="#0626f2"/><circle cx="942.0" cy="515.2" r="2.7" fill="#0626f2"/><circle cx="1030.9" cy="362.0" r="2.7" fill="#fa2a0a"/><circle cx="1037.4" cy="361.2" r="2.7" fill="#fa2a0a"/><circle cx="1043.5" cy="363.0" r="2.7" fill="#fa2a0a"/><circle cx="1040.4" cy="368.3" r="2.7" fill="#fa2a0a"/><circle cx="1030.9" cy="374.4" r="2.7" fill="#fa2a0a"/><circle cx="1043.5" cy="378.2" r="2.7" fill="#fa2a0a"/><circle cx="1049.9" cy="380.5" r="2.7" fill="#fa2a0a"/><circle cx="1030.9" cy="382.3" r="2.7" fill="#fa2a0a"/><circle cx="1037.4" cy="381.1" r="2.7" fill="#fa2a0a"/><circle cx="1037.4" cy="386.7" r="2.7" fill="#fa2a0a"/><circle cx="1043.5" cy="388.5" r="2.7" fill="#fa2a0a"/><circle cx="1024.6" cy="393.0" r="2.7" fill="#fa2a0a"/><circle cx="1043.5" cy="394.6" r="2.7" fill="#fa2a0a"/><circle cx="1030.9" cy="396.6" r="2.7" fill="#fa2a0a"/><circle cx="1049.9" cy="397.0" r="2.7" fill="#fa2a0a"/><circle cx="1062.5" cy="396.6" r="2.7" fill="#fa2a0a"/><circle cx="1024.6" cy="399.3" r="2.7" fill="#fa2a0a"/><circle cx="1056.2" cy="398.7" r="2.7" fill="#fa2a0a"/><circle cx="1037.4" cy="400.3" r="2.7" fill="#fa2a0a"/><circle cx="1043.5" cy="400.3" r="2.7" fill="#fa2a0a"/><circle cx="1049.9" cy="403.0" r="2.7" fill="#fa2a0a"/><circle cx="1043.5" cy="405.8" r="2.7" fill="#fa2a0a"/><circle cx="1030.9" cy="414.7" r="2.7" fill="#fa2a0a"/><circle cx="1043.5" cy="413.5" r="2.7" fill="#fa2a0a"/><circle cx="1030.9" cy="420.8" r="2.7" fill="#fa2a0a"/><circle cx="1037.4" cy="422.0" r="2.7" fill="#fa2a0a"/><circle cx="1043.5" cy="419.0" r="2.7" fill="#fa2a0a"/><circle cx="1056.2" cy="419.3" r="2.7" fill="#fa2a0a"/><circle cx="1043.5" cy="425.0" r="2.7" fill="#fa2a0a"/><circle cx="1049.9" cy="423.0" r="2.7" fill="#fa2a0a"/><circle cx="1049.9" cy="428.5" r="2.7" fill="#fa2a0a"/><circle cx="1056.2" cy="428.5" r="2.7" fill="#fa2a0a"/><circle cx="1037.4" cy="429.7" r="2.7" fill="#fa2a0a"/><circle cx="1024.6" cy="432.7" r="2.7" fill="#fa2a0a"/><circle cx="1030.9" cy="434.2" r="2.7" fill="#fa2a0a"/><circle cx="1037.4" cy="435.1" r="2.7" fill="#fa2a0a"/><circle cx="1043.5" cy="433.6" r="2.7" fill="#fa2a0a"/><circle cx="1049.9" cy="437.2" r="2.7" fill="#fa2a0a"/><circle cx="1024.6" cy="438.8" r="2.7" fill="#fa2a0a"/><circle cx="1030.9" cy="440.2" r="2.7" fill="#fa2a0a"/><circle cx="1043.5" cy="441.5" r="2.7" fill="#fa2a0a"/><circle cx="1056.2" cy="441.8" r="2.7" fill="#fa2a0a"/><circle cx="1037.4" cy="443.9" r="2.7" fill="#fa2a0a"/><circle cx="1049.9" cy="444.1" r="2.7" fill="#fa2a0a"/><circle cx="1018.2" cy="446.7" r="2.7" fill="#fa2a0a"/><circle cx="1024.6" cy="446.3" r="2.7" fill="#fa2a0a"/><circle cx="1030.9" cy="446.7" r="2.7" fill="#fa2a0a"/><circle cx="1062.5" cy="446.3" r="2.7" fill="#fa2a0a"/><circle cx="1037.4" cy="450.6" r="2.7" fill="#fa2a0a"/><circle cx="1043.5" cy="450.9" r="2.7" fill="#fa2a0a"/><circle cx="1049.9" cy="451.2" r="2.7" fill="#fa2a0a"/><circle cx="1056.2" cy="449.7" r="2.7" fill="#fa2a0a"/><circle cx="1011.9" cy="455.4" r="2.7" fill="#fa2a0a"/><circle cx="1030.9" cy="453.8" r="2.7" fill="#fa2a0a"/><circle cx="1056.2" cy="455.4" r="2.7" fill="#fa2a0a"/><circle cx="1069.0" cy="456.0" r="2.7" fill="#fa2a0a"/><circle cx="1024.6" cy="457.9" r="2.7" fill="#fa2a0a"/><circle cx="1037.4" cy="458.1" r="2.7" fill="#fa2a0a"/><circle cx="1030.9" cy="460.0" r="2.7" fill="#fa2a0a"/><circle cx="1043.5" cy="460.3" r="2.7" fill="#fa2a0a"/><circle cx="1049.9" cy="460.0" r="2.7" fill="#fa2a0a"/><circle cx="1056.2" cy="460.9" r="2.7" fill="#fa2a0a"/><circle cx="1024.6" cy="464.9" r="2.7" fill="#fa2a0a"/><circle cx="1037.4" cy="464.5" r="2.7" fill="#fa2a0a"/><circle cx="1049.9" cy="465.1" r="2.7" fill="#fa2a0a"/><circle cx="1030.9" cy="467.9" r="2.7" fill="#fa2a0a"/><circle cx="1043.5" cy="467.9" r="2.7" fill="#fa2a0a"/><circle cx="1056.2" cy="467.2" r="2.7" fill="#fa2a0a"/><circle cx="1037.4" cy="470.0" r="2.7" fill="#fa2a0a"/><circle cx="1049.9" cy="471.2" r="2.7" fill="#fa2a0a"/><circle cx="1049.9" cy="482.5" r="2.7" fill="#fa2a0a"/><circle cx="1043.5" cy="485.5" r="2.7" fill="#fa2a0a"/><circle cx="1037.4" cy="487.3" r="2.7" fill="#fa2a0a"/><circle cx="1005.6" cy="515.3" r="2.7" fill="#fa2a0a"/><circle cx="1011.9" cy="515.3" r="2.7" fill="#fa2a0a"/><circle cx="1018.2" cy="515.3" r="2.7" fill="#fa2a0a"/><circle cx="1024.6" cy="515.3" r="2.7" fill="#fa2a0a"/><circle cx="1030.9" cy="515.3" r="2.7" fill="#fa2a0a"/><circle cx="1037.4" cy="515.3" r="2.7" fill="#fa2a0a"/><circle cx="1043.5" cy="515.3" r="2.7" fill="#fa2a0a"/><circle cx="1049.9" cy="515.3" r="2.7" fill="#fa2a0a"/><circle cx="1056.2" cy="515.3" r="2.7" fill="#fa2a0a"/><circle cx="1062.5" cy="515.3" r="2.7" fill="#fa2a0a"/><circle cx="1069.0" cy="515.3" r="2.7" fill="#fa2a0a"/><circle cx="1075.4" cy="515.3" r="2.7" fill="#fa2a0a"/><path d="M927.7 468.2 V451.5 M918.7 451.5 H936.7 M918.7 468.2 H936.7" stroke="#555" stroke-width="1.3" fill="none"/><path d="M915.9 461.5 H939.6" stroke="#000" stroke-width="2"/><path d="M1040.1 484.3 V398.5 M1030.7 398.5 H1049.5 M1030.7 484.3 H1049.5" stroke="#222" stroke-width="1.5" fill="none"/><path d="M1027.9 441.2 H1052.2" stroke="#000" stroke-width="2"/><path d="M925.8 341.7 V326.9 H1038.2 V341.7" stroke="#808080" stroke-width="1.3" fill="none"/><text x="982.4" y="326.0" font-size="21" letter-spacing="0.7" text-anchor="middle">*</text></g>
<g><text transform="translate(1156.7 301.9) scale(0.965 1)" font-size="43">I</text><path d="M1241.0 338.5 V514.5 M1240.0 514.5 H1502.8" stroke="#000" stroke-width="2" fill="none"/><path d="M1234.0 514.5 H1241.0" stroke="#000" stroke-width="2"/><text x="1230.7" y="519.4" font-size="13.3" text-anchor="end">0</text><path d="M1234.0 470.8 H1241.0" stroke="#000" stroke-width="2"/><text x="1230.7" y="475.6" font-size="13.3" text-anchor="end">20000</text><path d="M1234.0 427.0 H1241.0" stroke="#000" stroke-width="2"/><text x="1230.7" y="431.9" font-size="13.3" text-anchor="end">40000</text><path d="M1234.0 383.2 H1241.0" stroke="#000" stroke-width="2"/><text x="1230.7" y="388.1" font-size="13.3" text-anchor="end">60000</text><path d="M1234.0 339.5 H1241.0" stroke="#000" stroke-width="2"/><text x="1230.7" y="344.4" font-size="13.3" text-anchor="end">80000</text><path d="M1315.6 514.5 V522.0" stroke="#000" stroke-width="2"/><text x="1315.6" y="537.0" font-size="13.8" text-anchor="middle">No LAE</text><path d="M1428.0 514.5 V522.0" stroke="#000" stroke-width="2"/><text x="1428.0" y="537.0" font-size="13.8" text-anchor="middle">LAE</text><text transform="translate(1184.4 427.7) rotate(-90)" font-size="14" text-anchor="middle">VCAM-1 AUC (ng/mL)</text><circle cx="1315.6" cy="427.8" r="2.7" fill="#0626f2"/><circle cx="1309.7" cy="434.2" r="2.7" fill="#0626f2"/><circle cx="1315.6" cy="436.9" r="2.7" fill="#0626f2"/><circle cx="1321.3" cy="438.3" r="2.7" fill="#0626f2"/><circle cx="1304.0" cy="448.0" r="2.7" fill="#0626f2"/><circle cx="1315.6" cy="447.2" r="2.7" fill="#0626f2"/><circle cx="1321.3" cy="448.7" r="2.7" fill="#0626f2"/><circle cx="1327.1" cy="451.5" r="2.7" fill="#0626f2"/><circle cx="1304.0" cy="454.2" r="2.7" fill="#0626f2"/><circle cx="1309.7" cy="453.6" r="2.7" fill="#0626f2"/><circle cx="1315.6" cy="452.9" r="2.7" fill="#0626f2"/><circle cx="1315.6" cy="458.4" r="2.7" fill="#0626f2"/><circle cx="1304.0" cy="464.2" r="2.7" fill="#0626f2"/><circle cx="1321.3" cy="465.1" r="2.7" fill="#0626f2"/><circle cx="1332.8" cy="463.8" r="2.7" fill="#0626f2"/><circle cx="1280.8" cy="468.8" r="2.7" fill="#0626f2"/><circle cx="1286.7" cy="467.0" r="2.7" fill="#0626f2"/><circle cx="1292.4" cy="467.5" r="2.7" fill="#0626f2"/><circle cx="1298.2" cy="467.5" r="2.7" fill="#0626f2"/><circle cx="1309.7" cy="468.5" r="2.7" fill="#0626f2"/><circle cx="1315.6" cy="467.0" r="2.7" fill="#0626f2"/><circle cx="1327.1" cy="468.5" r="2.7" fill="#0626f2"/><circle cx="1332.8" cy="468.8" r="2.7" fill="#0626f2"/><circle cx="1338.9" cy="468.5" r="2.7" fill="#0626f2"/><circle cx="1344.7" cy="470.7" r="2.7" fill="#0626f2"/><circle cx="1350.7" cy="468.5" r="2.7" fill="#0626f2"/><circle cx="1292.4" cy="472.4" r="2.7" fill="#0626f2"/><circle cx="1304.0" cy="471.5" r="2.7" fill="#0626f2"/><circle cx="1321.3" cy="471.1" r="2.7" fill="#0626f2"/><circle cx="1280.8" cy="474.5" r="2.7" fill="#0626f2"/><circle cx="1286.7" cy="475.5" r="2.7" fill="#0626f2"/><circle cx="1298.2" cy="475.5" r="2.7" fill="#0626f2"/><circle cx="1309.7" cy="475.1" r="2.7" fill="#0626f2"/><circle cx="1315.6" cy="473.3" r="2.7" fill="#0626f2"/><circle cx="1327.1" cy="475.1" r="2.7" fill="#0626f2"/><circle cx="1332.8" cy="475.8" r="2.7" fill="#0626f2"/><circle cx="1338.9" cy="474.5" r="2.7" fill="#0626f2"/><circle cx="1344.7" cy="475.8" r="2.7" fill="#0626f2"/><circle cx="1350.7" cy="475.4" r="2.7" fill="#0626f2"/><circle cx="1292.4" cy="478.8" r="2.7" fill="#0626f2"/><circle cx="1304.0" cy="478.8" r="2.7" fill="#0626f2"/><circle cx="1309.7" cy="478.2" r="2.7" fill="#0626f2"/><circle cx="1315.6" cy="478.5" r="2.7" fill="#0626f2"/><circle cx="1321.3" cy="478.5" r="2.7" fill="#0626f2"/><circle cx="1332.8" cy="481.6" r="2.7" fill="#0626f2"/><circle cx="1338.9" cy="481.9" r="2.7" fill="#0626f2"/><circle cx="1309.7" cy="483.1" r="2.7" fill="#0626f2"/><circle cx="1292.4" cy="486.5" r="2.7" fill="#0626f2"/><circle cx="1298.2" cy="487.7" r="2.7" fill="#0626f2"/><circle cx="1304.0" cy="487.3" r="2.7" fill="#0626f2"/><circle cx="1321.3" cy="486.5" r="2.7" fill="#0626f2"/><circle cx="1327.1" cy="487.9" r="2.7" fill="#0626f2"/><circle cx="1332.8" cy="486.5" r="2.7" fill="#0626f2"/><circle cx="1309.7" cy="491.8" r="2.7" fill="#0626f2"/><circle cx="1315.6" cy="489.8" r="2.7" fill="#0626f2"/><circle cx="1315.6" cy="495.5" r="2.7" fill="#0626f2"/><circle cx="1321.3" cy="494.6" r="2.7" fill="#0626f2"/><circle cx="1304.0" cy="496.7" r="2.7" fill="#0626f2"/><circle cx="1327.1" cy="498.6" r="2.7" fill="#0626f2"/><circle cx="1428.1" cy="379.1" r="2.7" fill="#fa2a0a"/><circle cx="1428.1" cy="385.6" r="2.7" fill="#fa2a0a"/><circle cx="1424.8" cy="393.1" r="2.7" fill="#fa2a0a"/><circle cx="1430.6" cy="394.9" r="2.7" fill="#fa2a0a"/><circle cx="1422.0" cy="406.2" r="2.7" fill="#fa2a0a"/><circle cx="1428.1" cy="404.6" r="2.7" fill="#fa2a0a"/><circle cx="1433.7" cy="403.0" r="2.7" fill="#fa2a0a"/><circle cx="1428.1" cy="410.7" r="2.7" fill="#fa2a0a"/><circle cx="1433.7" cy="414.3" r="2.7" fill="#fa2a0a"/><circle cx="1428.1" cy="417.4" r="2.7" fill="#fa2a0a"/><circle cx="1428.1" cy="423.2" r="2.7" fill="#fa2a0a"/><circle cx="1433.7" cy="427.7" r="2.7" fill="#fa2a0a"/><circle cx="1439.4" cy="430.1" r="2.7" fill="#fa2a0a"/><circle cx="1410.6" cy="432.9" r="2.7" fill="#fa2a0a"/><circle cx="1422.0" cy="432.9" r="2.7" fill="#fa2a0a"/><circle cx="1433.7" cy="433.5" r="2.7" fill="#fa2a0a"/><circle cx="1427.8" cy="435.3" r="2.7" fill="#fa2a0a"/><circle cx="1410.6" cy="438.6" r="2.7" fill="#fa2a0a"/><circle cx="1416.3" cy="437.5" r="2.7" fill="#fa2a0a"/><circle cx="1439.4" cy="437.5" r="2.7" fill="#fa2a0a"/><circle cx="1445.2" cy="439.0" r="2.7" fill="#fa2a0a"/><circle cx="1433.7" cy="440.2" r="2.7" fill="#fa2a0a"/><circle cx="1427.8" cy="442.3" r="2.7" fill="#fa2a0a"/><circle cx="1450.9" cy="443.6" r="2.7" fill="#fa2a0a"/><circle cx="1457.0" cy="443.6" r="2.7" fill="#fa2a0a"/><circle cx="1398.7" cy="445.9" r="2.7" fill="#fa2a0a"/><circle cx="1404.7" cy="446.3" r="2.7" fill="#fa2a0a"/><circle cx="1410.6" cy="448.1" r="2.7" fill="#fa2a0a"/><circle cx="1416.3" cy="446.9" r="2.7" fill="#fa2a0a"/><circle cx="1422.0" cy="447.8" r="2.7" fill="#fa2a0a"/><circle cx="1427.8" cy="447.5" r="2.7" fill="#fa2a0a"/><circle cx="1433.7" cy="447.8" r="2.7" fill="#fa2a0a"/><circle cx="1439.4" cy="445.9" r="2.7" fill="#fa2a0a"/><circle cx="1445.2" cy="446.6" r="2.7" fill="#fa2a0a"/><circle cx="1450.9" cy="449.7" r="2.7" fill="#fa2a0a"/><circle cx="1445.2" cy="451.5" r="2.7" fill="#fa2a0a"/><circle cx="1416.3" cy="451.7" r="2.7" fill="#fa2a0a"/><circle cx="1392.8" cy="455.6" r="2.7" fill="#fa2a0a"/><circle cx="1398.7" cy="453.6" r="2.7" fill="#fa2a0a"/><circle cx="1410.6" cy="453.9" r="2.7" fill="#fa2a0a"/><circle cx="1422.0" cy="454.8" r="2.7" fill="#fa2a0a"/><circle cx="1433.7" cy="454.2" r="2.7" fill="#fa2a0a"/><circle cx="1439.4" cy="453.2" r="2.7" fill="#fa2a0a"/><circle cx="1450.9" cy="454.8" r="2.7" fill="#fa2a0a"/><circle cx="1457.0" cy="456.0" r="2.7" fill="#fa2a0a"/><circle cx="1463.1" cy="456.3" r="2.7" fill="#fa2a0a"/><circle cx="1404.7" cy="458.8" r="2.7" fill="#fa2a0a"/><circle cx="1410.6" cy="459.6" r="2.7" fill="#fa2a0a"/><circle cx="1416.3" cy="457.8" r="2.7" fill="#fa2a0a"/><circle cx="1433.7" cy="460.0" r="2.7" fill="#fa2a0a"/><circle cx="1445.2" cy="460.2" r="2.7" fill="#fa2a0a"/><circle cx="1392.8" cy="461.7" r="2.7" fill="#fa2a0a"/><circle cx="1398.7" cy="461.7" r="2.7" fill="#fa2a0a"/><circle cx="1416.3" cy="463.3" r="2.7" fill="#fa2a0a"/><circle cx="1422.0" cy="462.4" r="2.7" fill="#fa2a0a"/><circle cx="1427.8" cy="464.1" r="2.7" fill="#fa2a0a"/><circle cx="1433.7" cy="465.1" r="2.7" fill="#fa2a0a"/><circle cx="1439.4" cy="463.6" r="2.7" fill="#fa2a0a"/><circle cx="1445.2" cy="465.1" r="2.7" fill="#fa2a0a"/><circle cx="1450.9" cy="463.9" r="2.7" fill="#fa2a0a"/><circle cx="1457.0" cy="462.4" r="2.7" fill="#fa2a0a"/><circle cx="1463.1" cy="462.9" r="2.7" fill="#fa2a0a"/><circle cx="1404.7" cy="466.6" r="2.7" fill="#fa2a0a"/><circle cx="1410.6" cy="465.5" r="2.7" fill="#fa2a0a"/><circle cx="1439.4" cy="469.0" r="2.7" fill="#fa2a0a"/><circle cx="1416.3" cy="470.6" r="2.7" fill="#fa2a0a"/><circle cx="1422.0" cy="470.6" r="2.7" fill="#fa2a0a"/><circle cx="1445.2" cy="471.4" r="2.7" fill="#fa2a0a"/><circle cx="1404.7" cy="473.6" r="2.7" fill="#fa2a0a"/><circle cx="1427.8" cy="473.6" r="2.7" fill="#fa2a0a"/><circle cx="1433.7" cy="473.0" r="2.7" fill="#fa2a0a"/><circle cx="1450.9" cy="473.4" r="2.7" fill="#fa2a0a"/><circle cx="1439.4" cy="475.2" r="2.7" fill="#fa2a0a"/><circle cx="1422.0" cy="476.6" r="2.7" fill="#fa2a0a"/><circle cx="1404.7" cy="479.7" r="2.7" fill="#fa2a0a"/><circle cx="1410.6" cy="478.5" r="2.7" fill="#fa2a0a"/><circle cx="1416.3" cy="477.9" r="2.7" fill="#fa2a0a"/><circle cx="1445.2" cy="477.5" r="2.7" fill="#fa2a0a"/><circle cx="1450.9" cy="479.9" r="2.7" fill="#fa2a0a"/><circle cx="1427.8" cy="480.3" r="2.7" fill="#fa2a0a"/><circle cx="1433.7" cy="481.5" r="2.7" fill="#fa2a0a"/><circle cx="1439.4" cy="481.5" r="2.7" fill="#fa2a0a"/><circle cx="1422.0" cy="482.7" r="2.7" fill="#fa2a0a"/><circle cx="1433.7" cy="487.6" r="2.7" fill="#fa2a0a"/><circle cx="1422.0" cy="489.4" r="2.7" fill="#fa2a0a"/><path d="M1315.6 475.8 V468.7 M1306.6 468.7 H1324.6 M1306.6 475.8 H1324.6" stroke="#555" stroke-width="1.3" fill="none"/><path d="M1303.8 472.5 H1327.3" stroke="#000" stroke-width="2"/><path d="M1428.0 475.1 V427.4 M1418.5 427.4 H1437.5 M1418.5 475.1 H1437.5" stroke="#222" stroke-width="1.5" fill="none"/><path d="M1415.8 451.1 H1440.2" stroke="#000" stroke-width="2"/><path d="M1313.7 341.1 V326.3 H1426.1 V341.1" stroke="#808080" stroke-width="1.3" fill="none"/><text x="1370.2" y="325.4" font-size="21" letter-spacing="0.7" text-anchor="middle">****</text></g>
<g><text transform="translate(1551.5 301.9) scale(0.965 1)" font-size="43">J</text><path d="M1623.6 320.0 V495.2 M1622.6 495.2 H1885.4" stroke="#000" stroke-width="2" fill="none"/><path d="M1616.6 495.2 H1623.6" stroke="#000" stroke-width="2"/><text x="1613.3" y="500.1" font-size="13.3" text-anchor="end">0</text><path d="M1616.6 437.1 H1623.6" stroke="#000" stroke-width="2"/><text x="1613.3" y="442.0" font-size="13.3" text-anchor="end">50000</text><path d="M1616.6 379.1 H1623.6" stroke="#000" stroke-width="2"/><text x="1613.3" y="384.0" font-size="13.3" text-anchor="end">100000</text><path d="M1616.6 321.0 H1623.6" stroke="#000" stroke-width="2"/><text x="1613.3" y="325.9" font-size="13.3" text-anchor="end">150000</text><path d="M1698.2 495.2 V502.7" stroke="#000" stroke-width="2"/><text x="1698.2" y="517.7" font-size="13.8" text-anchor="middle">No LAE</text><path d="M1810.6 495.2 V502.7" stroke="#000" stroke-width="2"/><text x="1810.6" y="517.7" font-size="13.8" text-anchor="middle">LAE</text><text transform="translate(1559.6 408.8) rotate(-90)" font-size="14" text-anchor="middle">MMP-9 AUC (ng/mL)</text><circle cx="1692.3" cy="400.0" r="2.7" fill="#0626f2"/><circle cx="1698.2" cy="398.1" r="2.7" fill="#0626f2"/><circle cx="1698.2" cy="404.8" r="2.7" fill="#0626f2"/><circle cx="1704.1" cy="404.5" r="2.7" fill="#0626f2"/><circle cx="1709.8" cy="402.1" r="2.7" fill="#0626f2"/><circle cx="1674.9" cy="411.9" r="2.7" fill="#0626f2"/><circle cx="1686.5" cy="411.9" r="2.7" fill="#0626f2"/><circle cx="1692.3" cy="412.8" r="2.7" fill="#0626f2"/><circle cx="1698.2" cy="415.6" r="2.7" fill="#0626f2"/><circle cx="1704.1" cy="412.5" r="2.7" fill="#0626f2"/><circle cx="1709.8" cy="414.0" r="2.7" fill="#0626f2"/><circle cx="1715.6" cy="414.0" r="2.7" fill="#0626f2"/><circle cx="1721.4" cy="410.9" r="2.7" fill="#0626f2"/><circle cx="1695.2" cy="421.0" r="2.7" fill="#0626f2"/><circle cx="1701.0" cy="422.1" r="2.7" fill="#0626f2"/><circle cx="1692.3" cy="427.7" r="2.7" fill="#0626f2"/><circle cx="1698.2" cy="427.7" r="2.7" fill="#0626f2"/><circle cx="1704.1" cy="427.7" r="2.7" fill="#0626f2"/><circle cx="1692.3" cy="435.6" r="2.7" fill="#0626f2"/><circle cx="1698.2" cy="440.5" r="2.7" fill="#0626f2"/><circle cx="1721.4" cy="440.5" r="2.7" fill="#0626f2"/><circle cx="1674.9" cy="444.3" r="2.7" fill="#0626f2"/><circle cx="1686.5" cy="445.6" r="2.7" fill="#0626f2"/><circle cx="1692.3" cy="446.8" r="2.7" fill="#0626f2"/><circle cx="1704.1" cy="445.9" r="2.7" fill="#0626f2"/><circle cx="1709.8" cy="447.1" r="2.7" fill="#0626f2"/><circle cx="1721.4" cy="447.1" r="2.7" fill="#0626f2"/><circle cx="1715.6" cy="449.2" r="2.7" fill="#0626f2"/><circle cx="1674.9" cy="450.8" r="2.7" fill="#0626f2"/><circle cx="1686.5" cy="451.3" r="2.7" fill="#0626f2"/><circle cx="1704.1" cy="452.0" r="2.7" fill="#0626f2"/><circle cx="1709.8" cy="452.5" r="2.7" fill="#0626f2"/><circle cx="1692.3" cy="454.3" r="2.7" fill="#0626f2"/><circle cx="1698.2" cy="450.5" r="2.7" fill="#0626f2"/><circle cx="1704.1" cy="457.4" r="2.7" fill="#0626f2"/><circle cx="1686.5" cy="458.9" r="2.7" fill="#0626f2"/><circle cx="1727.4" cy="461.4" r="2.7" fill="#0626f2"/><circle cx="1692.3" cy="462.6" r="2.7" fill="#0626f2"/><circle cx="1698.2" cy="461.7" r="2.7" fill="#0626f2"/><circle cx="1704.1" cy="462.9" r="2.7" fill="#0626f2"/><circle cx="1681.0" cy="464.2" r="2.7" fill="#0626f2"/><circle cx="1663.4" cy="465.9" r="2.7" fill="#0626f2"/><circle cx="1669.2" cy="466.5" r="2.7" fill="#0626f2"/><circle cx="1686.5" cy="465.7" r="2.7" fill="#0626f2"/><circle cx="1692.3" cy="468.2" r="2.7" fill="#0626f2"/><circle cx="1698.2" cy="467.6" r="2.7" fill="#0626f2"/><circle cx="1704.1" cy="468.8" r="2.7" fill="#0626f2"/><circle cx="1715.6" cy="468.8" r="2.7" fill="#0626f2"/><circle cx="1721.4" cy="468.5" r="2.7" fill="#0626f2"/><circle cx="1727.4" cy="467.0" r="2.7" fill="#0626f2"/><circle cx="1674.9" cy="471.3" r="2.7" fill="#0626f2"/><circle cx="1681.0" cy="470.7" r="2.7" fill="#0626f2"/><circle cx="1686.5" cy="471.6" r="2.7" fill="#0626f2"/><circle cx="1709.8" cy="471.3" r="2.7" fill="#0626f2"/><circle cx="1692.3" cy="473.3" r="2.7" fill="#0626f2"/><circle cx="1704.1" cy="474.7" r="2.7" fill="#0626f2"/><circle cx="1695.2" cy="482.6" r="2.7" fill="#0626f2"/><circle cx="1701.0" cy="482.6" r="2.7" fill="#0626f2"/><circle cx="1805.2" cy="377.9" r="2.7" fill="#fa2a0a"/><circle cx="1810.4" cy="382.4" r="2.7" fill="#fa2a0a"/><circle cx="1810.4" cy="402.8" r="2.7" fill="#fa2a0a"/><circle cx="1807.8" cy="408.9" r="2.7" fill="#fa2a0a"/><circle cx="1812.9" cy="408.9" r="2.7" fill="#fa2a0a"/><circle cx="1810.4" cy="419.5" r="2.7" fill="#fa2a0a"/><circle cx="1815.3" cy="420.1" r="2.7" fill="#fa2a0a"/><circle cx="1800.5" cy="421.0" r="2.7" fill="#fa2a0a"/><circle cx="1795.2" cy="424.7" r="2.7" fill="#fa2a0a"/><circle cx="1805.2" cy="423.5" r="2.7" fill="#fa2a0a"/><circle cx="1820.4" cy="422.9" r="2.7" fill="#fa2a0a"/><circle cx="1825.4" cy="423.5" r="2.7" fill="#fa2a0a"/><circle cx="1800.5" cy="426.5" r="2.7" fill="#fa2a0a"/><circle cx="1815.3" cy="426.9" r="2.7" fill="#fa2a0a"/><circle cx="1800.5" cy="432.6" r="2.7" fill="#fa2a0a"/><circle cx="1805.2" cy="431.4" r="2.7" fill="#fa2a0a"/><circle cx="1815.3" cy="432.6" r="2.7" fill="#fa2a0a"/><circle cx="1795.4" cy="437.1" r="2.7" fill="#fa2a0a"/><circle cx="1800.3" cy="439.2" r="2.7" fill="#fa2a0a"/><circle cx="1805.4" cy="436.5" r="2.7" fill="#fa2a0a"/><circle cx="1810.4" cy="438.9" r="2.7" fill="#fa2a0a"/><circle cx="1815.5" cy="439.3" r="2.7" fill="#fa2a0a"/><circle cx="1820.3" cy="440.8" r="2.7" fill="#fa2a0a"/><circle cx="1825.2" cy="439.9" r="2.7" fill="#fa2a0a"/><circle cx="1805.4" cy="442.3" r="2.7" fill="#fa2a0a"/><circle cx="1795.4" cy="444.0" r="2.7" fill="#fa2a0a"/><circle cx="1810.4" cy="443.8" r="2.7" fill="#fa2a0a"/><circle cx="1805.4" cy="447.2" r="2.7" fill="#fa2a0a"/><circle cx="1815.5" cy="448.4" r="2.7" fill="#fa2a0a"/><circle cx="1825.2" cy="448.4" r="2.7" fill="#fa2a0a"/><circle cx="1830.3" cy="448.9" r="2.7" fill="#fa2a0a"/><circle cx="1840.4" cy="447.7" r="2.7" fill="#fa2a0a"/><circle cx="1780.5" cy="449.9" r="2.7" fill="#fa2a0a"/><circle cx="1785.7" cy="450.5" r="2.7" fill="#fa2a0a"/><circle cx="1795.4" cy="449.9" r="2.7" fill="#fa2a0a"/><circle cx="1790.6" cy="452.9" r="2.7" fill="#fa2a0a"/><circle cx="1800.3" cy="452.3" r="2.7" fill="#fa2a0a"/><circle cx="1805.4" cy="453.3" r="2.7" fill="#fa2a0a"/><circle cx="1820.3" cy="452.3" r="2.7" fill="#fa2a0a"/><circle cx="1840.4" cy="453.9" r="2.7" fill="#fa2a0a"/><circle cx="1775.4" cy="456.6" r="2.7" fill="#fa2a0a"/><circle cx="1780.5" cy="455.9" r="2.7" fill="#fa2a0a"/><circle cx="1785.7" cy="456.2" r="2.7" fill="#fa2a0a"/><circle cx="1795.4" cy="455.7" r="2.7" fill="#fa2a0a"/><circle cx="1810.4" cy="456.2" r="2.7" fill="#fa2a0a"/><circle cx="1815.5" cy="456.2" r="2.7" fill="#fa2a0a"/><circle cx="1825.2" cy="455.0" r="2.7" fill="#fa2a0a"/><circle cx="1800.3" cy="457.8" r="2.7" fill="#fa2a0a"/><circle cx="1820.3" cy="458.4" r="2.7" fill="#fa2a0a"/><circle cx="1830.3" cy="458.1" r="2.7" fill="#fa2a0a"/><circle cx="1845.5" cy="457.2" r="2.7" fill="#fa2a0a"/><circle cx="1790.6" cy="459.8" r="2.7" fill="#fa2a0a"/><circle cx="1805.4" cy="459.8" r="2.7" fill="#fa2a0a"/><circle cx="1825.2" cy="460.6" r="2.7" fill="#fa2a0a"/><circle cx="1835.3" cy="460.2" r="2.7" fill="#fa2a0a"/><circle cx="1840.4" cy="459.8" r="2.7" fill="#fa2a0a"/><circle cx="1780.5" cy="462.3" r="2.7" fill="#fa2a0a"/><circle cx="1785.7" cy="462.3" r="2.7" fill="#fa2a0a"/><circle cx="1800.3" cy="463.2" r="2.7" fill="#fa2a0a"/><circle cx="1810.4" cy="462.6" r="2.7" fill="#fa2a0a"/><circle cx="1815.5" cy="463.0" r="2.7" fill="#fa2a0a"/><circle cx="1820.3" cy="463.8" r="2.7" fill="#fa2a0a"/><circle cx="1830.3" cy="464.2" r="2.7" fill="#fa2a0a"/><circle cx="1805.4" cy="465.1" r="2.7" fill="#fa2a0a"/><circle cx="1790.6" cy="466.9" r="2.7" fill="#fa2a0a"/><circle cx="1795.4" cy="466.3" r="2.7" fill="#fa2a0a"/><circle cx="1820.3" cy="468.1" r="2.7" fill="#fa2a0a"/><circle cx="1825.2" cy="466.9" r="2.7" fill="#fa2a0a"/><circle cx="1810.4" cy="468.7" r="2.7" fill="#fa2a0a"/><circle cx="1805.4" cy="470.5" r="2.7" fill="#fa2a0a"/><circle cx="1830.3" cy="470.3" r="2.7" fill="#fa2a0a"/><circle cx="1785.7" cy="471.7" r="2.7" fill="#fa2a0a"/><circle cx="1790.6" cy="473.2" r="2.7" fill="#fa2a0a"/><circle cx="1800.3" cy="473.9" r="2.7" fill="#fa2a0a"/><circle cx="1810.4" cy="474.4" r="2.7" fill="#fa2a0a"/><circle cx="1820.3" cy="474.8" r="2.7" fill="#fa2a0a"/><circle cx="1825.2" cy="473.9" r="2.7" fill="#fa2a0a"/><circle cx="1830.3" cy="476.0" r="2.7" fill="#fa2a0a"/><circle cx="1795.4" cy="477.2" r="2.7" fill="#fa2a0a"/><circle cx="1805.4" cy="476.8" r="2.7" fill="#fa2a0a"/><circle cx="1815.5" cy="476.8" r="2.7" fill="#fa2a0a"/><circle cx="1805.4" cy="483.3" r="2.7" fill="#fa2a0a"/><circle cx="1810.4" cy="481.5" r="2.7" fill="#fa2a0a"/><circle cx="1815.5" cy="482.9" r="2.7" fill="#fa2a0a"/><path d="M1698.2 461.4 V444.7 M1689.1 444.7 H1707.3 M1689.1 461.4 H1707.3" stroke="#555" stroke-width="1.3" fill="none"/><path d="M1686.2 449.8 H1710.1" stroke="#000" stroke-width="2"/><path d="M1810.6 471.7 V429.2 M1801.1 429.2 H1820.1 M1801.1 471.7 H1820.1" stroke="#222" stroke-width="1.5" fill="none"/><path d="M1798.4 450.2 H1822.8" stroke="#000" stroke-width="2"/></g>
</svg></body></html>
